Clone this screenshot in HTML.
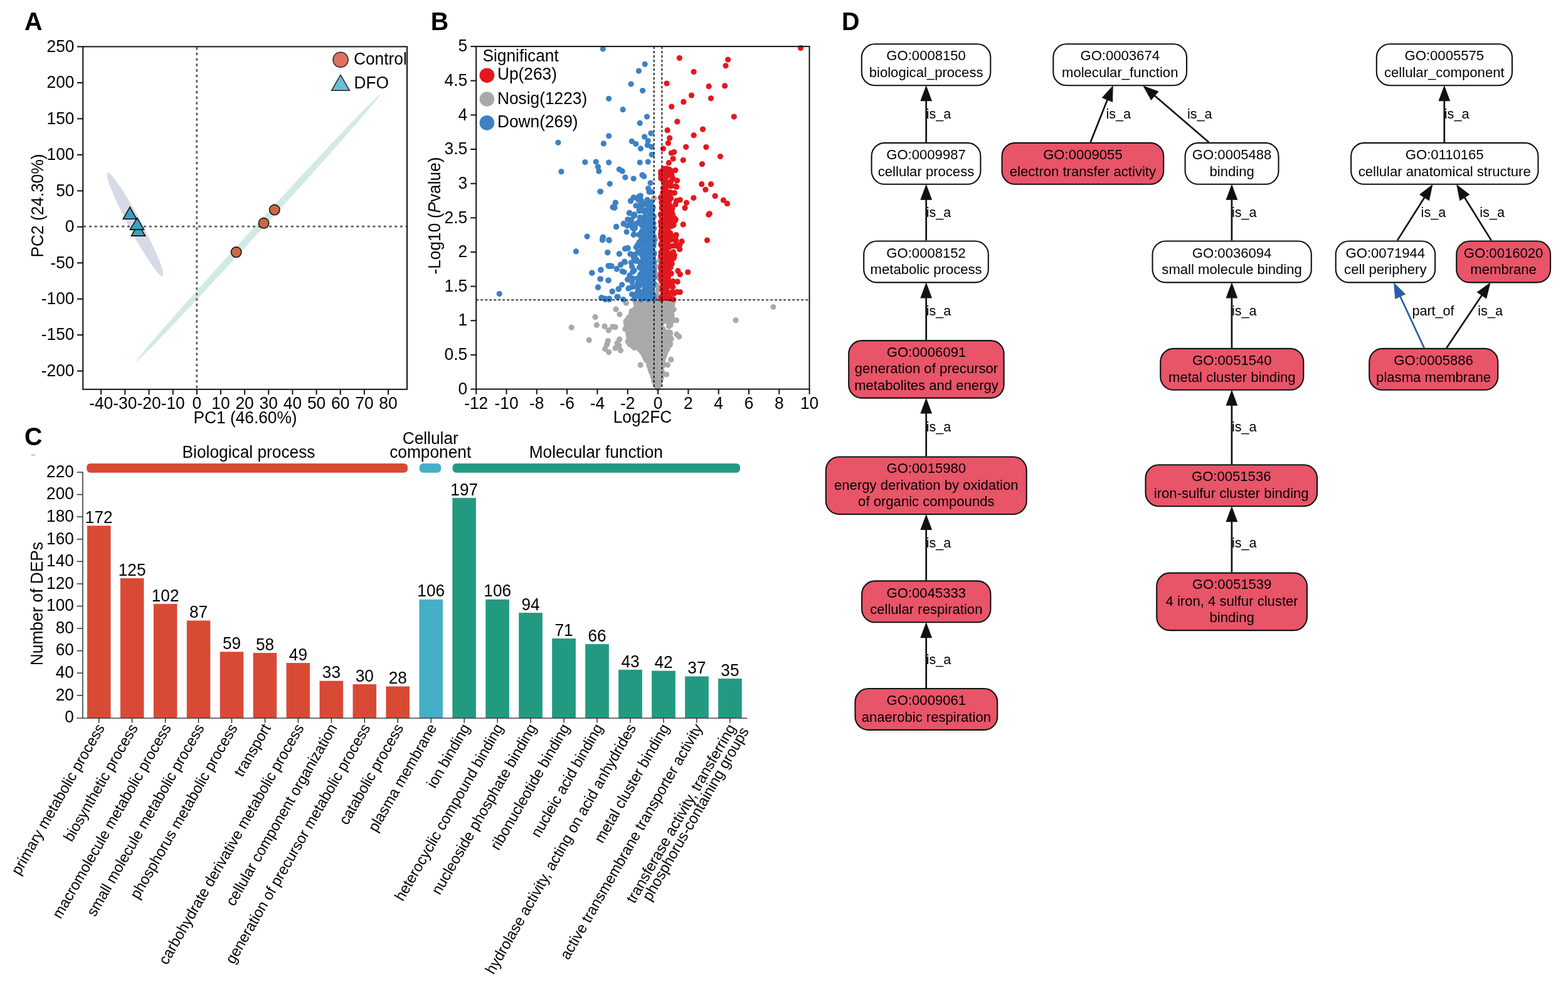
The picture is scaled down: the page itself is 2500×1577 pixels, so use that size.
<!DOCTYPE html>
<html><head><meta charset="utf-8"><title>Figure</title>
<style>
html,body{margin:0;padding:0;background:#fff;}
body{width:2500px;height:1577px;overflow:hidden;}
svg{display:block;font-family:'Liberation Sans', Arial, Helvetica, sans-serif;}
</style></head>
<body>
<svg width="2500" height="1577" viewBox="0 0 2500 1577">
<rect width="2500" height="1577" fill="#fff"/>
<text font-size="39.5" font-weight="bold" transform="translate(39.0 48.4) scale(1 1.035)">A</text>
<ellipse cx="215.3" cy="357.9" rx="93.5" ry="10.2" fill="#D6DAE7" transform="rotate(61.91 215.3 357.9)"/>
<ellipse cx="411.2" cy="364.0" rx="288" ry="5.6" fill="#D2EAE5" transform="rotate(-47.58 411.2 364.0)"/>
<line x1="313.8" y1="75.4" x2="313.8" y2="619.8" stroke="#5a5a5a" stroke-width="2.8" stroke-dasharray="4 4.7"/>
<line x1="133.3" y1="361.1" x2="648.0" y2="361.1" stroke="#5a5a5a" stroke-width="2.8" stroke-dasharray="4 4.7"/>
<rect x="132.3" y="74.4" width="516.7" height="546.4" fill="none" stroke="#111" stroke-width="2"/>
<line x1="123.0" y1="74.4" x2="132.3" y2="74.4" stroke="#111" stroke-width="2"/>
<text font-size="26.4" text-anchor="end" transform="translate(118.5 82.7) scale(1 1.035)">250</text>
<line x1="123.0" y1="131.9" x2="132.3" y2="131.9" stroke="#111" stroke-width="2"/>
<text font-size="26.4" text-anchor="end" transform="translate(118.5 140.2) scale(1 1.035)">200</text>
<line x1="123.0" y1="189.3" x2="132.3" y2="189.3" stroke="#111" stroke-width="2"/>
<text font-size="26.4" text-anchor="end" transform="translate(118.5 197.6) scale(1 1.035)">150</text>
<line x1="123.0" y1="246.8" x2="132.3" y2="246.8" stroke="#111" stroke-width="2"/>
<text font-size="26.4" text-anchor="end" transform="translate(118.5 255.1) scale(1 1.035)">100</text>
<line x1="123.0" y1="304.3" x2="132.3" y2="304.3" stroke="#111" stroke-width="2"/>
<text font-size="26.4" text-anchor="end" transform="translate(118.5 312.6) scale(1 1.035)">50</text>
<line x1="123.0" y1="361.7" x2="132.3" y2="361.7" stroke="#111" stroke-width="2"/>
<text font-size="26.4" text-anchor="end" transform="translate(118.5 370.0) scale(1 1.035)">0</text>
<line x1="123.0" y1="419.2" x2="132.3" y2="419.2" stroke="#111" stroke-width="2"/>
<text font-size="26.4" text-anchor="end" transform="translate(118.5 427.5) scale(1 1.035)">-50</text>
<line x1="123.0" y1="476.7" x2="132.3" y2="476.7" stroke="#111" stroke-width="2"/>
<text font-size="26.4" text-anchor="end" transform="translate(118.5 485.0) scale(1 1.035)">-100</text>
<line x1="123.0" y1="534.1" x2="132.3" y2="534.1" stroke="#111" stroke-width="2"/>
<text font-size="26.4" text-anchor="end" transform="translate(118.5 542.4) scale(1 1.035)">-150</text>
<line x1="123.0" y1="591.6" x2="132.3" y2="591.6" stroke="#111" stroke-width="2"/>
<text font-size="26.4" text-anchor="end" transform="translate(118.5 599.9) scale(1 1.035)">-200</text>
<line x1="161.2" y1="620.8" x2="161.2" y2="629.3" stroke="#111" stroke-width="2"/>
<text font-size="26.4" text-anchor="middle" transform="translate(161.2 652.3) scale(1 1.035)">-40</text>
<line x1="199.4" y1="620.8" x2="199.4" y2="629.3" stroke="#111" stroke-width="2"/>
<text font-size="26.4" text-anchor="middle" transform="translate(199.4 652.3) scale(1 1.035)">-30</text>
<line x1="237.5" y1="620.8" x2="237.5" y2="629.3" stroke="#111" stroke-width="2"/>
<text font-size="26.4" text-anchor="middle" transform="translate(237.5 652.3) scale(1 1.035)">-20</text>
<line x1="275.7" y1="620.8" x2="275.7" y2="629.3" stroke="#111" stroke-width="2"/>
<text font-size="26.4" text-anchor="middle" transform="translate(275.7 652.3) scale(1 1.035)">-10</text>
<line x1="313.8" y1="620.8" x2="313.8" y2="629.3" stroke="#111" stroke-width="2"/>
<text font-size="26.4" text-anchor="middle" transform="translate(313.8 652.3) scale(1 1.035)">0</text>
<line x1="351.9" y1="620.8" x2="351.9" y2="629.3" stroke="#111" stroke-width="2"/>
<text font-size="26.4" text-anchor="middle" transform="translate(351.9 652.3) scale(1 1.035)">10</text>
<line x1="390.1" y1="620.8" x2="390.1" y2="629.3" stroke="#111" stroke-width="2"/>
<text font-size="26.4" text-anchor="middle" transform="translate(390.1 652.3) scale(1 1.035)">20</text>
<line x1="428.2" y1="620.8" x2="428.2" y2="629.3" stroke="#111" stroke-width="2"/>
<text font-size="26.4" text-anchor="middle" transform="translate(428.2 652.3) scale(1 1.035)">30</text>
<line x1="466.4" y1="620.8" x2="466.4" y2="629.3" stroke="#111" stroke-width="2"/>
<text font-size="26.4" text-anchor="middle" transform="translate(466.4 652.3) scale(1 1.035)">40</text>
<line x1="504.6" y1="620.8" x2="504.6" y2="629.3" stroke="#111" stroke-width="2"/>
<text font-size="26.4" text-anchor="middle" transform="translate(504.6 652.3) scale(1 1.035)">50</text>
<line x1="542.7" y1="620.8" x2="542.7" y2="629.3" stroke="#111" stroke-width="2"/>
<text font-size="26.4" text-anchor="middle" transform="translate(542.7 652.3) scale(1 1.035)">60</text>
<line x1="580.9" y1="620.8" x2="580.9" y2="629.3" stroke="#111" stroke-width="2"/>
<text font-size="26.4" text-anchor="middle" transform="translate(580.9 652.3) scale(1 1.035)">70</text>
<line x1="619.0" y1="620.8" x2="619.0" y2="629.3" stroke="#111" stroke-width="2"/>
<text font-size="26.4" text-anchor="middle" transform="translate(619.0 652.3) scale(1 1.035)">80</text>
<text font-size="26.3" text-anchor="middle" transform="translate(391.0 674.5) scale(1 1.035)">PC1 (46.60%)</text>
<text font-size="26.3" text-anchor="middle" transform="translate(68.8 328.0) rotate(-90) scale(1 1.035)">PC2 (24.30%)</text>
<polygon points="220.5,357.5 209.4,376.1 231.6,376.1" fill="#3FA1BF" stroke="#111" stroke-width="1.6" stroke-linejoin="miter"/>
<polygon points="207.1,330.2 196.3,349.3 217.7,349.3" fill="#3FA1BF" stroke="#111" stroke-width="1.6" stroke-linejoin="miter"/>
<polygon points="218.7,347.5 207.4,366.1 229.5,366.1" fill="#3FA1BF" stroke="#111" stroke-width="1.6" stroke-linejoin="miter"/>
<circle cx="437.8" cy="334.6" r="8.2" fill="#C96A45" stroke="#111" stroke-width="1.6"/>
<circle cx="420.6" cy="355.8" r="8.2" fill="#C96A45" stroke="#111" stroke-width="1.6"/>
<circle cx="376.7" cy="402.1" r="8.2" fill="#C96A45" stroke="#111" stroke-width="1.6"/>
<circle cx="543" cy="95.3" r="12" fill="#E07060" stroke="#222" stroke-width="1.5"/>
<text font-size="26.3" transform="translate(564.0 103.0) scale(1 1.035)">Control</text>
<polygon points="543.0,119.4 528.6,144.3 557.4,144.3" fill="#66BFD4" stroke="#2a1a1a" stroke-width="1.4" stroke-linejoin="miter"/>
<text font-size="26.3" transform="translate(564.5 141.1) scale(1 1.035)">DFO</text>
<text font-size="39.5" font-weight="bold" transform="translate(686.8 48.3) scale(1 1.035)">B</text>
<g fill="#A9A9A9">
<circle cx="911.2" cy="522.2" r="4.6"/>
<circle cx="949.0" cy="505.4" r="4.6"/>
<circle cx="951.4" cy="518.3" r="4.6"/>
<circle cx="939.2" cy="542.3" r="4.6"/>
<circle cx="964.0" cy="520.4" r="4.6"/>
<circle cx="970.4" cy="526.7" r="4.6"/>
<circle cx="976.7" cy="521.0" r="4.6"/>
<circle cx="981.0" cy="521.6" r="4.6"/>
<circle cx="982.0" cy="493.2" r="4.6"/>
<circle cx="988.0" cy="501.3" r="4.6"/>
<circle cx="998.4" cy="483.2" r="4.6"/>
<circle cx="996.8" cy="524.7" r="4.6"/>
<circle cx="969.4" cy="543.5" r="4.6"/>
<circle cx="967.6" cy="549.6" r="4.6"/>
<circle cx="964.6" cy="556.3" r="4.6"/>
<circle cx="970.7" cy="561.6" r="4.6"/>
<circle cx="987.7" cy="541.1" r="4.6"/>
<circle cx="984.1" cy="547.2" r="4.6"/>
<circle cx="981.0" cy="555.1" r="4.6"/>
<circle cx="989.5" cy="558.8" r="4.6"/>
<circle cx="987.1" cy="551.5" r="4.6"/>
<circle cx="1007.2" cy="496.0" r="4.6"/>
<circle cx="1011.5" cy="554.5" r="4.6"/>
<circle cx="1021.2" cy="581.9" r="4.6"/>
<circle cx="1021.8" cy="551.5" r="4.6"/>
<circle cx="1069.9" cy="573.4" r="4.6"/>
<circle cx="1064.5" cy="581.9" r="4.6"/>
<circle cx="1062.6" cy="597.1" r="4.6"/>
<circle cx="1078.5" cy="510.7" r="4.6"/>
<circle cx="1082.7" cy="536.8" r="4.6"/>
<circle cx="1079.1" cy="533.2" r="4.6"/>
<circle cx="1074.2" cy="493.6" r="4.6"/>
<circle cx="1001.1" cy="544.8" r="4.6"/>
<circle cx="1232.9" cy="489.5" r="4.6"/>
<circle cx="1173.0" cy="510.7" r="4.6"/>
<circle cx="1042.8" cy="316.0" r="4.6"/>
<circle cx="1044.5" cy="382.0" r="4.6"/>
<circle cx="1045.0" cy="424.5" r="4.6"/>
<circle cx="1052.6" cy="426.3" r="4.6"/>
<circle cx="1045.0" cy="435.7" r="4.6"/>
<circle cx="1052.0" cy="415.0" r="4.6"/>
<circle cx="1050.0" cy="442.6" r="4.6"/>
<circle cx="1047.0" cy="455.0" r="4.6"/>
<circle cx="1049.0" cy="462.0" r="4.6"/>
<circle cx="1047.0" cy="470.0" r="4.6"/>
<circle cx="1050.0" cy="475.0" r="4.6"/>
<circle cx="1050.0" cy="525.0" r="4.6"/>
<circle cx="1062.8" cy="490.1" r="4.6"/>
<circle cx="1036.0" cy="554.5" r="4.6"/>
<circle cx="1041.4" cy="550.5" r="4.6"/>
<circle cx="1037.1" cy="485.2" r="4.6"/>
<circle cx="1044.2" cy="492.6" r="4.6"/>
<circle cx="1041.7" cy="539.0" r="4.6"/>
<circle cx="1025.7" cy="511.0" r="4.6"/>
<circle cx="1055.0" cy="567.2" r="4.6"/>
<circle cx="1027.7" cy="535.1" r="4.6"/>
<circle cx="1049.9" cy="615.7" r="4.6"/>
<circle cx="1045.5" cy="520.3" r="4.6"/>
<circle cx="1051.1" cy="500.1" r="4.6"/>
<circle cx="1049.8" cy="593.4" r="4.6"/>
<circle cx="1012.1" cy="505.1" r="4.6"/>
<circle cx="1021.2" cy="531.8" r="4.6"/>
<circle cx="1045.2" cy="556.1" r="4.6"/>
<circle cx="1039.3" cy="508.6" r="4.6"/>
<circle cx="1037.8" cy="574.6" r="4.6"/>
<circle cx="1046.5" cy="561.4" r="4.6"/>
<circle cx="1025.7" cy="543.0" r="4.6"/>
<circle cx="1056.7" cy="577.2" r="4.6"/>
<circle cx="1010.7" cy="513.9" r="4.6"/>
<circle cx="1045.6" cy="601.6" r="4.6"/>
<circle cx="1040.7" cy="581.4" r="4.6"/>
<circle cx="1070.6" cy="496.4" r="4.6"/>
<circle cx="1037.5" cy="538.1" r="4.6"/>
<circle cx="1025.0" cy="548.0" r="4.6"/>
<circle cx="1028.7" cy="485.4" r="4.6"/>
<circle cx="1024.5" cy="559.7" r="4.6"/>
<circle cx="1045.4" cy="601.7" r="4.6"/>
<circle cx="1057.8" cy="562.6" r="4.6"/>
<circle cx="1023.0" cy="560.6" r="4.6"/>
<circle cx="1049.2" cy="611.3" r="4.6"/>
<circle cx="1032.8" cy="545.9" r="4.6"/>
<circle cx="1042.2" cy="577.5" r="4.6"/>
<circle cx="1058.2" cy="570.0" r="4.6"/>
<circle cx="1032.2" cy="519.6" r="4.6"/>
<circle cx="1033.7" cy="533.6" r="4.6"/>
<circle cx="1032.8" cy="544.2" r="4.6"/>
<circle cx="1043.1" cy="503.4" r="4.6"/>
<circle cx="1047.4" cy="586.8" r="4.6"/>
<circle cx="1039.9" cy="498.0" r="4.6"/>
<circle cx="1051.5" cy="601.1" r="4.6"/>
<circle cx="1021.3" cy="491.2" r="4.6"/>
<circle cx="1049.1" cy="602.8" r="4.6"/>
<circle cx="1049.6" cy="593.9" r="4.6"/>
<circle cx="1024.6" cy="537.7" r="4.6"/>
<circle cx="1067.9" cy="529.9" r="4.6"/>
<circle cx="1006.3" cy="501.0" r="4.6"/>
<circle cx="1039.3" cy="504.5" r="4.6"/>
<circle cx="1050.2" cy="547.4" r="4.6"/>
<circle cx="1042.2" cy="561.9" r="4.6"/>
<circle cx="1038.8" cy="538.2" r="4.6"/>
<circle cx="1001.7" cy="531.3" r="4.6"/>
<circle cx="1036.6" cy="576.0" r="4.6"/>
<circle cx="1017.9" cy="551.7" r="4.6"/>
<circle cx="1025.9" cy="487.5" r="4.6"/>
<circle cx="1049.1" cy="605.0" r="4.6"/>
<circle cx="1038.0" cy="590.9" r="4.6"/>
<circle cx="1028.5" cy="534.5" r="4.6"/>
<circle cx="1045.9" cy="568.2" r="4.6"/>
<circle cx="1053.7" cy="488.7" r="4.6"/>
<circle cx="1043.8" cy="502.6" r="4.6"/>
<circle cx="1034.3" cy="527.3" r="4.6"/>
<circle cx="1038.8" cy="501.0" r="4.6"/>
<circle cx="1038.2" cy="494.1" r="4.6"/>
<circle cx="1048.3" cy="601.5" r="4.6"/>
<circle cx="1047.6" cy="565.4" r="4.6"/>
<circle cx="1046.3" cy="528.3" r="4.6"/>
<circle cx="1062.7" cy="530.6" r="4.6"/>
<circle cx="1048.8" cy="618.0" r="4.6"/>
<circle cx="1028.1" cy="544.8" r="4.6"/>
<circle cx="1041.6" cy="494.2" r="4.6"/>
<circle cx="1030.5" cy="527.6" r="4.6"/>
<circle cx="1071.2" cy="502.4" r="4.6"/>
<circle cx="1063.5" cy="483.2" r="4.6"/>
<circle cx="1031.7" cy="500.4" r="4.6"/>
<circle cx="1057.8" cy="555.5" r="4.6"/>
<circle cx="1048.5" cy="616.0" r="4.6"/>
<circle cx="1046.6" cy="600.0" r="4.6"/>
<circle cx="1020.3" cy="531.0" r="4.6"/>
<circle cx="1041.4" cy="503.2" r="4.6"/>
<circle cx="1039.6" cy="588.3" r="4.6"/>
<circle cx="1039.5" cy="525.8" r="4.6"/>
<circle cx="1049.4" cy="616.9" r="4.6"/>
<circle cx="1050.2" cy="598.5" r="4.6"/>
<circle cx="1034.7" cy="582.8" r="4.6"/>
<circle cx="1015.0" cy="511.5" r="4.6"/>
<circle cx="1041.3" cy="484.0" r="4.6"/>
<circle cx="1040.6" cy="483.9" r="4.6"/>
<circle cx="1050.0" cy="576.3" r="4.6"/>
<circle cx="1045.3" cy="613.0" r="4.6"/>
<circle cx="1048.8" cy="617.3" r="4.6"/>
<circle cx="1047.3" cy="612.7" r="4.6"/>
<circle cx="1046.9" cy="511.5" r="4.6"/>
<circle cx="1045.1" cy="507.3" r="4.6"/>
<circle cx="1052.2" cy="605.1" r="4.6"/>
<circle cx="1041.0" cy="596.8" r="4.6"/>
<circle cx="1047.6" cy="591.2" r="4.6"/>
<circle cx="1021.5" cy="491.8" r="4.6"/>
<circle cx="1037.2" cy="588.7" r="4.6"/>
<circle cx="1041.8" cy="584.3" r="4.6"/>
<circle cx="1047.0" cy="589.7" r="4.6"/>
<circle cx="1050.1" cy="526.2" r="4.6"/>
<circle cx="1002.5" cy="535.0" r="4.6"/>
<circle cx="1067.3" cy="535.8" r="4.6"/>
<circle cx="1027.3" cy="503.6" r="4.6"/>
<circle cx="1063.2" cy="497.7" r="4.6"/>
<circle cx="1055.2" cy="592.1" r="4.6"/>
<circle cx="1063.8" cy="500.3" r="4.6"/>
<circle cx="1029.4" cy="571.4" r="4.6"/>
<circle cx="1024.3" cy="528.7" r="4.6"/>
<circle cx="1040.3" cy="482.0" r="4.6"/>
<circle cx="1047.5" cy="615.0" r="4.6"/>
<circle cx="1045.5" cy="609.8" r="4.6"/>
<circle cx="1062.8" cy="540.3" r="4.6"/>
<circle cx="1007.3" cy="509.3" r="4.6"/>
<circle cx="1030.1" cy="515.0" r="4.6"/>
<circle cx="1050.2" cy="561.5" r="4.6"/>
<circle cx="1024.3" cy="516.1" r="4.6"/>
<circle cx="1048.7" cy="606.5" r="4.6"/>
<circle cx="1009.0" cy="529.2" r="4.6"/>
<circle cx="1048.9" cy="605.7" r="4.6"/>
<circle cx="1057.8" cy="538.5" r="4.6"/>
<circle cx="1029.9" cy="553.9" r="4.6"/>
<circle cx="1056.1" cy="552.8" r="4.6"/>
<circle cx="1039.9" cy="505.5" r="4.6"/>
<circle cx="1046.4" cy="480.5" r="4.6"/>
<circle cx="1024.8" cy="545.8" r="4.6"/>
<circle cx="1039.4" cy="580.8" r="4.6"/>
<circle cx="1032.4" cy="552.1" r="4.6"/>
<circle cx="1042.8" cy="557.2" r="4.6"/>
<circle cx="1036.0" cy="557.9" r="4.6"/>
<circle cx="1028.1" cy="514.5" r="4.6"/>
<circle cx="1067.4" cy="550.6" r="4.6"/>
<circle cx="1043.7" cy="558.1" r="4.6"/>
<circle cx="1003.3" cy="541.6" r="4.6"/>
<circle cx="1031.0" cy="565.1" r="4.6"/>
<circle cx="1043.9" cy="576.3" r="4.6"/>
<circle cx="1014.4" cy="542.9" r="4.6"/>
<circle cx="1047.5" cy="610.9" r="4.6"/>
<circle cx="1056.7" cy="577.2" r="4.6"/>
<circle cx="998.6" cy="516.1" r="4.6"/>
<circle cx="1063.1" cy="557.8" r="4.6"/>
<circle cx="1026.6" cy="499.1" r="4.6"/>
<circle cx="1033.2" cy="496.9" r="4.6"/>
<circle cx="1037.5" cy="513.4" r="4.6"/>
<circle cx="1028.0" cy="490.2" r="4.6"/>
<circle cx="1042.8" cy="604.7" r="4.6"/>
<circle cx="1032.5" cy="501.5" r="4.6"/>
<circle cx="1011.5" cy="499.9" r="4.6"/>
<circle cx="1050.2" cy="602.7" r="4.6"/>
<circle cx="1047.9" cy="612.4" r="4.6"/>
<circle cx="1002.6" cy="535.4" r="4.6"/>
<circle cx="1048.3" cy="595.7" r="4.6"/>
<circle cx="1016.6" cy="502.4" r="4.6"/>
<circle cx="1043.7" cy="527.1" r="4.6"/>
<circle cx="1022.9" cy="507.2" r="4.6"/>
<circle cx="1068.6" cy="482.7" r="4.6"/>
<circle cx="1038.9" cy="557.0" r="4.6"/>
<circle cx="1034.9" cy="526.1" r="4.6"/>
<circle cx="1039.8" cy="566.7" r="4.6"/>
<circle cx="1048.4" cy="616.9" r="4.6"/>
<circle cx="1049.0" cy="589.6" r="4.6"/>
<circle cx="1032.4" cy="516.9" r="4.6"/>
<circle cx="1045.6" cy="485.5" r="4.6"/>
<circle cx="1025.0" cy="498.0" r="4.6"/>
<circle cx="1068.7" cy="538.7" r="4.6"/>
<circle cx="1013.3" cy="515.9" r="4.6"/>
<circle cx="1060.7" cy="500.8" r="4.6"/>
<circle cx="1039.8" cy="577.4" r="4.6"/>
<circle cx="1066.6" cy="492.4" r="4.6"/>
<circle cx="1047.8" cy="539.1" r="4.6"/>
<circle cx="1065.1" cy="490.1" r="4.6"/>
<circle cx="1044.0" cy="591.4" r="4.6"/>
<circle cx="1045.9" cy="491.6" r="4.6"/>
<circle cx="1046.4" cy="599.9" r="4.6"/>
<circle cx="1023.2" cy="543.1" r="4.6"/>
<circle cx="1050.9" cy="608.8" r="4.6"/>
<circle cx="1051.9" cy="517.2" r="4.6"/>
<circle cx="1053.9" cy="513.1" r="4.6"/>
<circle cx="1043.5" cy="495.2" r="4.6"/>
<circle cx="1042.3" cy="508.0" r="4.6"/>
<circle cx="1022.0" cy="523.4" r="4.6"/>
<circle cx="1066.4" cy="520.3" r="4.6"/>
<circle cx="1043.8" cy="549.5" r="4.6"/>
<circle cx="1057.6" cy="482.5" r="4.6"/>
<circle cx="1069.3" cy="514.8" r="4.6"/>
<circle cx="1043.1" cy="556.6" r="4.6"/>
<circle cx="1002.6" cy="506.3" r="4.6"/>
<circle cx="1047.2" cy="494.8" r="4.6"/>
<circle cx="1041.9" cy="593.8" r="4.6"/>
<circle cx="1049.5" cy="596.0" r="4.6"/>
<circle cx="1005.3" cy="534.6" r="4.6"/>
<circle cx="1048.3" cy="616.6" r="4.6"/>
<circle cx="1049.3" cy="527.6" r="4.6"/>
<circle cx="1030.9" cy="568.4" r="4.6"/>
<circle cx="1032.7" cy="536.3" r="4.6"/>
<circle cx="1044.7" cy="498.0" r="4.6"/>
<circle cx="1041.9" cy="489.8" r="4.6"/>
<circle cx="1023.0" cy="502.7" r="4.6"/>
<circle cx="1061.0" cy="491.7" r="4.6"/>
<circle cx="1030.3" cy="573.2" r="4.6"/>
<circle cx="1034.7" cy="519.2" r="4.6"/>
<circle cx="1052.9" cy="543.9" r="4.6"/>
<circle cx="1023.9" cy="501.9" r="4.6"/>
<circle cx="1048.6" cy="613.7" r="4.6"/>
<circle cx="1047.5" cy="615.2" r="4.6"/>
<circle cx="1047.9" cy="614.2" r="4.6"/>
<circle cx="1032.9" cy="523.0" r="4.6"/>
<circle cx="1036.4" cy="533.0" r="4.6"/>
<circle cx="1023.2" cy="546.0" r="4.6"/>
<circle cx="1036.2" cy="550.2" r="4.6"/>
<circle cx="1042.4" cy="480.7" r="4.6"/>
<circle cx="1045.2" cy="535.5" r="4.6"/>
<circle cx="1057.6" cy="485.8" r="4.6"/>
<circle cx="1037.5" cy="512.4" r="4.6"/>
<circle cx="1023.9" cy="561.4" r="4.6"/>
<circle cx="1041.0" cy="571.4" r="4.6"/>
<circle cx="1049.8" cy="579.5" r="4.6"/>
<circle cx="1019.8" cy="525.3" r="4.6"/>
<circle cx="1049.0" cy="616.9" r="4.6"/>
<circle cx="1055.1" cy="569.4" r="4.6"/>
<circle cx="1061.6" cy="486.1" r="4.6"/>
<circle cx="1027.5" cy="567.2" r="4.6"/>
<circle cx="1046.6" cy="582.0" r="4.6"/>
<circle cx="1029.8" cy="552.8" r="4.6"/>
<circle cx="1053.6" cy="550.1" r="4.6"/>
<circle cx="1039.8" cy="594.9" r="4.6"/>
<circle cx="1055.6" cy="561.2" r="4.6"/>
<circle cx="1037.1" cy="576.4" r="4.6"/>
<circle cx="1046.5" cy="512.0" r="4.6"/>
<circle cx="1036.8" cy="530.1" r="4.6"/>
<circle cx="1052.4" cy="494.6" r="4.6"/>
<circle cx="1032.9" cy="567.3" r="4.6"/>
<circle cx="1038.6" cy="567.0" r="4.6"/>
<circle cx="1024.4" cy="480.5" r="4.6"/>
<circle cx="1046.6" cy="590.9" r="4.6"/>
<circle cx="1021.2" cy="554.4" r="4.6"/>
<circle cx="1056.3" cy="571.6" r="4.6"/>
<circle cx="1048.5" cy="515.1" r="4.6"/>
<circle cx="1039.8" cy="490.3" r="4.6"/>
<circle cx="1070.6" cy="508.5" r="4.6"/>
<circle cx="1052.8" cy="582.8" r="4.6"/>
<circle cx="1032.1" cy="533.2" r="4.6"/>
<circle cx="1022.8" cy="546.6" r="4.6"/>
<circle cx="1027.9" cy="565.8" r="4.6"/>
<circle cx="1047.9" cy="569.3" r="4.6"/>
<circle cx="1040.0" cy="515.3" r="4.6"/>
<circle cx="1042.7" cy="583.3" r="4.6"/>
<circle cx="1064.6" cy="481.7" r="4.6"/>
<circle cx="1040.2" cy="488.4" r="4.6"/>
<circle cx="1055.4" cy="576.2" r="4.6"/>
<circle cx="1041.4" cy="573.9" r="4.6"/>
<circle cx="1059.4" cy="544.6" r="4.6"/>
<circle cx="1067.0" cy="544.8" r="4.6"/>
<circle cx="1066.8" cy="507.7" r="4.6"/>
<circle cx="1048.5" cy="616.0" r="4.6"/>
<circle cx="1035.0" cy="543.8" r="4.6"/>
<circle cx="1052.2" cy="594.0" r="4.6"/>
<circle cx="1029.5" cy="517.3" r="4.6"/>
<circle cx="1050.1" cy="509.2" r="4.6"/>
<circle cx="1039.6" cy="560.8" r="4.6"/>
<circle cx="1007.2" cy="499.7" r="4.6"/>
<circle cx="1032.4" cy="498.4" r="4.6"/>
<circle cx="1039.0" cy="594.0" r="4.6"/>
<circle cx="1043.7" cy="577.8" r="4.6"/>
<circle cx="1055.2" cy="512.2" r="4.6"/>
<circle cx="1031.0" cy="483.5" r="4.6"/>
<circle cx="1023.6" cy="480.5" r="4.6"/>
<circle cx="1034.8" cy="522.0" r="4.6"/>
<circle cx="1029.8" cy="499.6" r="4.6"/>
<circle cx="1050.6" cy="596.8" r="4.6"/>
<circle cx="1043.2" cy="480.2" r="4.6"/>
<circle cx="1009.3" cy="496.7" r="4.6"/>
<circle cx="1046.6" cy="608.8" r="4.6"/>
<circle cx="999.5" cy="520.3" r="4.6"/>
<circle cx="1001.8" cy="531.7" r="4.6"/>
<circle cx="1060.7" cy="561.9" r="4.6"/>
<circle cx="1020.3" cy="530.1" r="4.6"/>
<circle cx="1049.1" cy="486.7" r="4.6"/>
<circle cx="1048.2" cy="494.1" r="4.6"/>
<circle cx="1046.3" cy="610.0" r="4.6"/>
<circle cx="1031.8" cy="514.7" r="4.6"/>
<circle cx="1061.7" cy="506.4" r="4.6"/>
<circle cx="1068.7" cy="531.9" r="4.6"/>
<circle cx="1044.1" cy="592.9" r="4.6"/>
<circle cx="1058.9" cy="567.7" r="4.6"/>
<circle cx="1023.7" cy="556.3" r="4.6"/>
<circle cx="1055.6" cy="580.0" r="4.6"/>
<circle cx="1046.4" cy="542.7" r="4.6"/>
<circle cx="1042.6" cy="584.6" r="4.6"/>
<circle cx="1032.1" cy="486.8" r="4.6"/>
<circle cx="1050.1" cy="608.8" r="4.6"/>
<circle cx="1050.1" cy="527.8" r="4.6"/>
<circle cx="1029.8" cy="521.4" r="4.6"/>
<circle cx="998.6" cy="516.2" r="4.6"/>
<circle cx="1040.2" cy="571.2" r="4.6"/>
<circle cx="1060.7" cy="534.8" r="4.6"/>
<circle cx="1045.2" cy="503.3" r="4.6"/>
<circle cx="1049.7" cy="605.9" r="4.6"/>
<circle cx="1043.9" cy="549.1" r="4.6"/>
<circle cx="1048.7" cy="618.5" r="4.6"/>
<circle cx="1044.9" cy="542.5" r="4.6"/>
<circle cx="1050.3" cy="492.6" r="4.6"/>
<circle cx="1046.2" cy="527.5" r="4.6"/>
<circle cx="1042.8" cy="515.9" r="4.6"/>
<circle cx="1057.4" cy="559.2" r="4.6"/>
<circle cx="1014.9" cy="537.4" r="4.6"/>
<circle cx="1017.4" cy="537.5" r="4.6"/>
<circle cx="1030.9" cy="527.0" r="4.6"/>
<circle cx="1035.5" cy="488.6" r="4.6"/>
<circle cx="1070.7" cy="497.5" r="4.6"/>
<circle cx="1010.4" cy="550.0" r="4.6"/>
<circle cx="1004.7" cy="510.0" r="4.6"/>
<circle cx="1034.3" cy="517.7" r="4.6"/>
<circle cx="1056.8" cy="542.0" r="4.6"/>
<circle cx="1050.3" cy="612.6" r="4.6"/>
<circle cx="1014.2" cy="483.0" r="4.6"/>
<circle cx="1033.8" cy="484.5" r="4.6"/>
<circle cx="1003.7" cy="545.8" r="4.6"/>
<circle cx="1053.4" cy="561.6" r="4.6"/>
<circle cx="1048.0" cy="608.8" r="4.6"/>
<circle cx="1054.9" cy="594.8" r="4.6"/>
<circle cx="998.3" cy="514.5" r="4.6"/>
<circle cx="1052.8" cy="495.2" r="4.6"/>
<circle cx="1051.8" cy="574.8" r="4.6"/>
<circle cx="1047.5" cy="610.9" r="4.6"/>
<circle cx="1037.7" cy="586.3" r="4.6"/>
<circle cx="1031.2" cy="543.6" r="4.6"/>
<circle cx="1045.9" cy="588.7" r="4.6"/>
<circle cx="1062.5" cy="512.3" r="4.6"/>
<circle cx="1019.5" cy="522.2" r="4.6"/>
<circle cx="1039.3" cy="497.8" r="4.6"/>
<circle cx="1054.9" cy="577.1" r="4.6"/>
<circle cx="1060.3" cy="495.6" r="4.6"/>
<circle cx="1048.1" cy="561.0" r="4.6"/>
<circle cx="1040.4" cy="533.9" r="4.6"/>
<circle cx="1066.6" cy="481.5" r="4.6"/>
<circle cx="999.8" cy="521.9" r="4.6"/>
<circle cx="1049.0" cy="569.6" r="4.6"/>
<circle cx="1045.2" cy="602.8" r="4.6"/>
<circle cx="1036.8" cy="514.3" r="4.6"/>
<circle cx="1047.8" cy="613.5" r="4.6"/>
<circle cx="1028.7" cy="483.0" r="4.6"/>
<circle cx="1026.9" cy="549.3" r="4.6"/>
<circle cx="1014.4" cy="515.8" r="4.6"/>
<circle cx="1049.0" cy="572.8" r="4.6"/>
<circle cx="1037.5" cy="484.7" r="4.6"/>
<circle cx="1007.5" cy="527.0" r="4.6"/>
<circle cx="1051.9" cy="507.5" r="4.6"/>
<circle cx="1046.2" cy="590.8" r="4.6"/>
<circle cx="1011.4" cy="508.5" r="4.6"/>
<circle cx="1047.4" cy="614.8" r="4.6"/>
<circle cx="1071.4" cy="512.1" r="4.6"/>
<circle cx="1036.9" cy="510.8" r="4.6"/>
<circle cx="1046.6" cy="612.3" r="4.6"/>
<circle cx="1041.3" cy="548.9" r="4.6"/>
<circle cx="1050.3" cy="538.0" r="4.6"/>
<circle cx="1048.1" cy="572.5" r="4.6"/>
<circle cx="1032.5" cy="534.7" r="4.6"/>
<circle cx="1047.8" cy="509.6" r="4.6"/>
<circle cx="1041.6" cy="487.2" r="4.6"/>
<circle cx="1014.9" cy="488.4" r="4.6"/>
<circle cx="1052.5" cy="602.8" r="4.6"/>
<circle cx="1056.2" cy="581.8" r="4.6"/>
<circle cx="1032.7" cy="525.8" r="4.6"/>
<circle cx="1068.6" cy="505.8" r="4.6"/>
<circle cx="1031.8" cy="484.4" r="4.6"/>
<circle cx="1037.9" cy="572.4" r="4.6"/>
<circle cx="1046.7" cy="526.1" r="4.6"/>
<circle cx="1054.1" cy="503.5" r="4.6"/>
<circle cx="1034.6" cy="528.9" r="4.6"/>
<circle cx="1051.1" cy="612.8" r="4.6"/>
<circle cx="1071.8" cy="508.8" r="4.6"/>
<circle cx="1050.6" cy="529.6" r="4.6"/>
<circle cx="1003.2" cy="540.1" r="4.6"/>
<circle cx="1026.9" cy="486.8" r="4.6"/>
<circle cx="1048.4" cy="607.8" r="4.6"/>
<circle cx="1007.8" cy="506.8" r="4.6"/>
<circle cx="1071.0" cy="484.2" r="4.6"/>
<circle cx="1050.0" cy="537.1" r="4.6"/>
<circle cx="1015.9" cy="485.7" r="4.6"/>
<circle cx="1071.9" cy="484.8" r="4.6"/>
<circle cx="1052.7" cy="515.7" r="4.6"/>
<circle cx="1050.2" cy="583.9" r="4.6"/>
<circle cx="1022.6" cy="517.9" r="4.6"/>
<circle cx="1047.2" cy="613.1" r="4.6"/>
<circle cx="1041.2" cy="579.6" r="4.6"/>
<circle cx="1033.1" cy="524.0" r="4.6"/>
<circle cx="1046.3" cy="585.0" r="4.6"/>
<circle cx="1043.3" cy="607.4" r="4.6"/>
<circle cx="1014.0" cy="483.4" r="4.6"/>
<circle cx="998.3" cy="512.5" r="4.6"/>
<circle cx="1048.9" cy="612.6" r="4.6"/>
<circle cx="1035.7" cy="533.7" r="4.6"/>
<circle cx="1056.5" cy="548.6" r="4.6"/>
<circle cx="1049.9" cy="609.0" r="4.6"/>
<circle cx="1056.0" cy="582.6" r="4.6"/>
<circle cx="1048.0" cy="594.4" r="4.6"/>
<circle cx="1006.7" cy="525.6" r="4.6"/>
<circle cx="1011.0" cy="524.4" r="4.6"/>
<circle cx="1065.2" cy="491.0" r="4.6"/>
<circle cx="1037.1" cy="507.4" r="4.6"/>
<circle cx="1030.3" cy="489.0" r="4.6"/>
<circle cx="1028.6" cy="484.7" r="4.6"/>
<circle cx="1048.1" cy="616.3" r="4.6"/>
<circle cx="1050.5" cy="602.8" r="4.6"/>
<circle cx="1040.8" cy="491.7" r="4.6"/>
<circle cx="1013.3" cy="493.4" r="4.6"/>
<circle cx="1036.9" cy="542.1" r="4.6"/>
<circle cx="1008.4" cy="512.6" r="4.6"/>
<circle cx="1049.3" cy="573.7" r="4.6"/>
<circle cx="1050.9" cy="584.0" r="4.6"/>
<circle cx="1017.6" cy="496.8" r="4.6"/>
<circle cx="1045.8" cy="596.9" r="4.6"/>
<circle cx="1060.2" cy="531.8" r="4.6"/>
<circle cx="1046.9" cy="582.6" r="4.6"/>
<circle cx="1050.0" cy="514.1" r="4.6"/>
<circle cx="1057.7" cy="501.3" r="4.6"/>
<circle cx="1016.1" cy="525.4" r="4.6"/>
<circle cx="1060.3" cy="535.1" r="4.6"/>
<circle cx="1033.8" cy="512.2" r="4.6"/>
<circle cx="1038.5" cy="592.4" r="4.6"/>
<circle cx="1011.1" cy="494.2" r="4.6"/>
<circle cx="1052.1" cy="546.0" r="4.6"/>
<circle cx="1043.0" cy="607.1" r="4.6"/>
<circle cx="1040.8" cy="485.6" r="4.6"/>
<circle cx="1047.1" cy="506.4" r="4.6"/>
<circle cx="1046.5" cy="615.2" r="4.6"/>
<circle cx="1012.1" cy="531.7" r="4.6"/>
<circle cx="1044.7" cy="600.4" r="4.6"/>
<circle cx="1047.7" cy="588.1" r="4.6"/>
<circle cx="1050.4" cy="611.5" r="4.6"/>
<circle cx="1051.3" cy="566.2" r="4.6"/>
<circle cx="1027.8" cy="510.3" r="4.6"/>
<circle cx="1045.1" cy="508.4" r="4.6"/>
<circle cx="1009.0" cy="515.4" r="4.6"/>
<circle cx="1018.6" cy="508.3" r="4.6"/>
<circle cx="1030.7" cy="481.6" r="4.6"/>
<circle cx="1064.6" cy="505.7" r="4.6"/>
<circle cx="1043.7" cy="523.4" r="4.6"/>
<circle cx="1064.1" cy="556.2" r="4.6"/>
<circle cx="1056.8" cy="488.8" r="4.6"/>
<circle cx="1049.1" cy="556.5" r="4.6"/>
<circle cx="1048.0" cy="568.8" r="4.6"/>
<circle cx="1046.7" cy="576.7" r="4.6"/>
<circle cx="1033.2" cy="537.0" r="4.6"/>
<circle cx="1049.7" cy="612.5" r="4.6"/>
<circle cx="1016.3" cy="523.4" r="4.6"/>
<circle cx="1029.2" cy="537.9" r="4.6"/>
<circle cx="1051.4" cy="600.1" r="4.6"/>
<circle cx="1036.3" cy="507.4" r="4.6"/>
<circle cx="1045.3" cy="581.2" r="4.6"/>
<circle cx="1048.2" cy="605.3" r="4.6"/>
<circle cx="1045.7" cy="538.9" r="4.6"/>
<circle cx="1044.4" cy="602.7" r="4.6"/>
<circle cx="1038.2" cy="544.1" r="4.6"/>
<circle cx="1043.0" cy="556.7" r="4.6"/>
<circle cx="1046.7" cy="569.1" r="4.6"/>
<circle cx="1041.0" cy="566.5" r="4.6"/>
<circle cx="1023.9" cy="531.5" r="4.6"/>
<circle cx="1033.5" cy="519.4" r="4.6"/>
<circle cx="1045.3" cy="552.4" r="4.6"/>
<circle cx="1031.9" cy="548.2" r="4.6"/>
<circle cx="1050.1" cy="591.9" r="4.6"/>
<circle cx="1037.1" cy="497.6" r="4.6"/>
<circle cx="1050.6" cy="611.1" r="4.6"/>
<circle cx="1040.2" cy="487.4" r="4.6"/>
<circle cx="1043.5" cy="608.7" r="4.6"/>
<circle cx="1056.8" cy="566.2" r="4.6"/>
<circle cx="1051.5" cy="594.6" r="4.6"/>
<circle cx="1068.0" cy="510.9" r="4.6"/>
<circle cx="1058.3" cy="536.2" r="4.6"/>
<circle cx="1005.7" cy="505.4" r="4.6"/>
<circle cx="1014.8" cy="510.3" r="4.6"/>
<circle cx="1050.0" cy="533.3" r="4.6"/>
<circle cx="1040.4" cy="497.1" r="4.6"/>
<circle cx="1053.1" cy="604.7" r="4.6"/>
<circle cx="1016.4" cy="485.7" r="4.6"/>
<circle cx="1032.0" cy="485.3" r="4.6"/>
<circle cx="1051.8" cy="596.5" r="4.6"/>
<circle cx="1053.5" cy="556.5" r="4.6"/>
<circle cx="1039.9" cy="567.2" r="4.6"/>
<circle cx="1053.4" cy="561.0" r="4.6"/>
<circle cx="1024.9" cy="539.2" r="4.6"/>
<circle cx="1018.4" cy="540.9" r="4.6"/>
<circle cx="1028.2" cy="483.2" r="4.6"/>
<circle cx="1017.4" cy="512.7" r="4.6"/>
<circle cx="1047.2" cy="586.1" r="4.6"/>
<circle cx="1015.4" cy="505.0" r="4.6"/>
<circle cx="1044.3" cy="545.8" r="4.6"/>
<circle cx="1043.4" cy="539.9" r="4.6"/>
<circle cx="1021.8" cy="492.7" r="4.6"/>
<circle cx="1050.5" cy="485.7" r="4.6"/>
<circle cx="1056.4" cy="568.5" r="4.6"/>
<circle cx="1050.8" cy="588.1" r="4.6"/>
<circle cx="1057.2" cy="551.1" r="4.6"/>
<circle cx="1043.4" cy="532.5" r="4.6"/>
<circle cx="1050.7" cy="612.2" r="4.6"/>
<circle cx="1048.7" cy="618.5" r="4.6"/>
<circle cx="1046.9" cy="581.8" r="4.6"/>
<circle cx="1047.9" cy="616.5" r="4.6"/>
<circle cx="1068.3" cy="548.4" r="4.6"/>
<circle cx="1026.2" cy="503.0" r="4.6"/>
<circle cx="1048.3" cy="589.6" r="4.6"/>
<circle cx="1031.2" cy="528.8" r="4.6"/>
<circle cx="1052.8" cy="585.1" r="4.6"/>
<circle cx="1068.9" cy="518.2" r="4.6"/>
<circle cx="1050.5" cy="593.4" r="4.6"/>
<circle cx="1050.6" cy="607.9" r="4.6"/>
<circle cx="1034.3" cy="509.0" r="4.6"/>
<circle cx="1056.8" cy="524.4" r="4.6"/>
<circle cx="1047.4" cy="485.1" r="4.6"/>
<circle cx="1049.4" cy="610.2" r="4.6"/>
<circle cx="1047.7" cy="574.5" r="4.6"/>
<circle cx="1044.4" cy="589.1" r="4.6"/>
<circle cx="1014.8" cy="496.0" r="4.6"/>
<circle cx="1029.3" cy="530.0" r="4.6"/>
<circle cx="1043.0" cy="601.3" r="4.6"/>
<circle cx="1046.1" cy="602.7" r="4.6"/>
<circle cx="1065.8" cy="494.5" r="4.6"/>
<circle cx="1034.9" cy="534.8" r="4.6"/>
<circle cx="1045.2" cy="590.9" r="4.6"/>
<circle cx="1061.6" cy="560.3" r="4.6"/>
<circle cx="1036.7" cy="530.1" r="4.6"/>
<circle cx="1015.8" cy="504.6" r="4.6"/>
<circle cx="1056.1" cy="583.4" r="4.6"/>
<circle cx="1046.2" cy="515.3" r="4.6"/>
<circle cx="1055.4" cy="568.9" r="4.6"/>
<circle cx="1042.6" cy="572.3" r="4.6"/>
<circle cx="1038.7" cy="523.5" r="4.6"/>
<circle cx="1038.8" cy="500.8" r="4.6"/>
<circle cx="1032.4" cy="565.6" r="4.6"/>
<circle cx="1049.4" cy="604.5" r="4.6"/>
<circle cx="1043.4" cy="498.4" r="4.6"/>
<circle cx="1068.3" cy="483.1" r="4.6"/>
<circle cx="1037.9" cy="480.4" r="4.6"/>
<circle cx="1042.1" cy="529.6" r="4.6"/>
<circle cx="1010.4" cy="511.2" r="4.6"/>
<circle cx="1022.3" cy="508.4" r="4.6"/>
<circle cx="1038.2" cy="566.7" r="4.6"/>
<circle cx="1048.2" cy="610.2" r="4.6"/>
<circle cx="1040.2" cy="513.9" r="4.6"/>
<circle cx="1046.7" cy="568.7" r="4.6"/>
<circle cx="1048.4" cy="601.1" r="4.6"/>
<circle cx="1013.1" cy="516.7" r="4.6"/>
<circle cx="1029.2" cy="481.6" r="4.6"/>
<circle cx="1014.1" cy="528.7" r="4.6"/>
<circle cx="1028.7" cy="569.7" r="4.6"/>
<circle cx="1050.6" cy="582.0" r="4.6"/>
<circle cx="1039.7" cy="514.5" r="4.6"/>
<circle cx="1036.3" cy="553.9" r="4.6"/>
<circle cx="1037.2" cy="536.4" r="4.6"/>
<circle cx="1048.3" cy="588.3" r="4.6"/>
<circle cx="1013.7" cy="481.7" r="4.6"/>
<circle cx="1024.7" cy="499.8" r="4.6"/>
<circle cx="1017.2" cy="507.7" r="4.6"/>
<circle cx="1036.7" cy="569.2" r="4.6"/>
<circle cx="1048.8" cy="593.1" r="4.6"/>
<circle cx="1049.2" cy="521.7" r="4.6"/>
<circle cx="1066.1" cy="486.7" r="4.6"/>
<circle cx="1036.9" cy="579.4" r="4.6"/>
<circle cx="1059.4" cy="480.9" r="4.6"/>
<circle cx="1009.4" cy="544.7" r="4.6"/>
<circle cx="1041.1" cy="583.1" r="4.6"/>
<circle cx="1044.4" cy="494.6" r="4.6"/>
<circle cx="1054.1" cy="512.3" r="4.6"/>
<circle cx="1047.0" cy="584.2" r="4.6"/>
<circle cx="1050.9" cy="576.6" r="4.6"/>
<circle cx="1006.5" cy="517.0" r="4.6"/>
<circle cx="1019.5" cy="557.0" r="4.6"/>
<circle cx="1049.8" cy="552.7" r="4.6"/>
<circle cx="999.6" cy="516.9" r="4.6"/>
<circle cx="1000.0" cy="510.2" r="4.6"/>
<circle cx="1050.5" cy="602.3" r="4.6"/>
<circle cx="1036.3" cy="512.8" r="4.6"/>
<circle cx="1055.4" cy="583.4" r="4.6"/>
<circle cx="1022.2" cy="525.4" r="4.6"/>
<circle cx="1046.4" cy="602.3" r="4.6"/>
<circle cx="1049.9" cy="606.2" r="4.6"/>
<circle cx="1038.5" cy="567.7" r="4.6"/>
<circle cx="1047.2" cy="616.1" r="4.6"/>
<circle cx="1052.6" cy="545.3" r="4.6"/>
<circle cx="1042.2" cy="599.2" r="4.6"/>
<circle cx="1032.6" cy="540.8" r="4.6"/>
<circle cx="1007.7" cy="522.8" r="4.6"/>
<circle cx="1030.0" cy="509.5" r="4.6"/>
<circle cx="1047.0" cy="606.6" r="4.6"/>
<circle cx="1047.9" cy="500.1" r="4.6"/>
<circle cx="1048.2" cy="609.1" r="4.6"/>
<circle cx="1037.1" cy="527.9" r="4.6"/>
<circle cx="1046.4" cy="485.8" r="4.6"/>
<circle cx="1036.5" cy="576.3" r="4.6"/>
<circle cx="1037.8" cy="582.4" r="4.6"/>
<circle cx="1029.4" cy="489.1" r="4.6"/>
<circle cx="1044.5" cy="593.6" r="4.6"/>
<circle cx="1048.4" cy="593.9" r="4.6"/>
<circle cx="1046.7" cy="600.6" r="4.6"/>
<circle cx="1049.2" cy="607.1" r="4.6"/>
<circle cx="1033.0" cy="508.6" r="4.6"/>
<circle cx="1070.5" cy="495.6" r="4.6"/>
<circle cx="1048.9" cy="592.9" r="4.6"/>
<circle cx="1049.3" cy="568.2" r="4.6"/>
<circle cx="1007.8" cy="519.9" r="4.6"/>
<circle cx="1065.4" cy="493.9" r="4.6"/>
<circle cx="1057.0" cy="508.5" r="4.6"/>
<circle cx="1029.7" cy="524.4" r="4.6"/>
<circle cx="1036.3" cy="515.7" r="4.6"/>
<circle cx="1029.6" cy="519.3" r="4.6"/>
<circle cx="1014.8" cy="524.6" r="4.6"/>
<circle cx="1045.9" cy="614.0" r="4.6"/>
<circle cx="1042.8" cy="565.9" r="4.6"/>
<circle cx="1027.2" cy="484.3" r="4.6"/>
<circle cx="1049.4" cy="587.5" r="4.6"/>
<circle cx="1027.2" cy="528.2" r="4.6"/>
<circle cx="1010.2" cy="510.1" r="4.6"/>
<circle cx="1053.9" cy="599.9" r="4.6"/>
<circle cx="1057.9" cy="503.7" r="4.6"/>
<circle cx="1052.0" cy="480.2" r="4.6"/>
<circle cx="1049.8" cy="615.9" r="4.6"/>
<circle cx="1022.5" cy="480.6" r="4.6"/>
<circle cx="1047.0" cy="590.8" r="4.6"/>
<circle cx="1018.4" cy="505.6" r="4.6"/>
<circle cx="1047.4" cy="595.6" r="4.6"/>
<circle cx="1050.5" cy="516.2" r="4.6"/>
<circle cx="1030.0" cy="509.8" r="4.6"/>
<circle cx="1040.8" cy="577.2" r="4.6"/>
<circle cx="1043.4" cy="568.5" r="4.6"/>
<circle cx="1048.4" cy="491.2" r="4.6"/>
<circle cx="1038.4" cy="589.4" r="4.6"/>
<circle cx="1037.4" cy="567.3" r="4.6"/>
<circle cx="1052.3" cy="534.8" r="4.6"/>
<circle cx="1053.5" cy="603.8" r="4.6"/>
<circle cx="1061.9" cy="483.5" r="4.6"/>
<circle cx="1032.6" cy="508.7" r="4.6"/>
<circle cx="1068.0" cy="549.7" r="4.6"/>
<circle cx="1046.5" cy="532.7" r="4.6"/>
<circle cx="1026.9" cy="544.1" r="4.6"/>
<circle cx="1039.8" cy="553.9" r="4.6"/>
<circle cx="1028.7" cy="569.8" r="4.6"/>
<circle cx="1028.9" cy="528.4" r="4.6"/>
<circle cx="1049.7" cy="597.2" r="4.6"/>
<circle cx="1043.4" cy="572.0" r="4.6"/>
<circle cx="1024.5" cy="541.0" r="4.6"/>
<circle cx="1043.6" cy="587.5" r="4.6"/>
<circle cx="1031.6" cy="544.2" r="4.6"/>
<circle cx="1047.9" cy="603.0" r="4.6"/>
<circle cx="1046.8" cy="521.9" r="4.6"/>
<circle cx="1046.8" cy="577.7" r="4.6"/>
<circle cx="1029.0" cy="501.7" r="4.6"/>
<circle cx="1022.2" cy="514.4" r="4.6"/>
<circle cx="1059.5" cy="502.4" r="4.6"/>
<circle cx="1053.3" cy="525.6" r="4.6"/>
<circle cx="1056.3" cy="581.3" r="4.6"/>
<circle cx="1048.8" cy="494.2" r="4.6"/>
<circle cx="1033.6" cy="533.4" r="4.6"/>
<circle cx="1048.7" cy="616.8" r="4.6"/>
<circle cx="1005.4" cy="540.5" r="4.6"/>
<circle cx="1030.4" cy="507.3" r="4.6"/>
<circle cx="1028.7" cy="508.7" r="4.6"/>
<circle cx="1055.8" cy="534.0" r="4.6"/>
<circle cx="1047.7" cy="589.9" r="4.6"/>
<circle cx="1033.6" cy="576.4" r="4.6"/>
<circle cx="1036.3" cy="544.4" r="4.6"/>
<circle cx="1023.6" cy="499.7" r="4.6"/>
<circle cx="1041.5" cy="583.0" r="4.6"/>
<circle cx="1044.2" cy="606.2" r="4.6"/>
<circle cx="1049.1" cy="584.1" r="4.6"/>
<circle cx="1041.3" cy="538.5" r="4.6"/>
<circle cx="1053.5" cy="602.3" r="4.6"/>
<circle cx="1042.8" cy="587.6" r="4.6"/>
<circle cx="1030.8" cy="574.5" r="4.6"/>
<circle cx="1036.0" cy="569.2" r="4.6"/>
<circle cx="1045.6" cy="567.3" r="4.6"/>
<circle cx="1014.0" cy="493.6" r="4.6"/>
<circle cx="1050.7" cy="579.1" r="4.6"/>
<circle cx="1043.3" cy="567.5" r="4.6"/>
<circle cx="1057.3" cy="543.3" r="4.6"/>
<circle cx="1031.1" cy="566.4" r="4.6"/>
<circle cx="1050.1" cy="609.3" r="4.6"/>
<circle cx="1017.3" cy="505.4" r="4.6"/>
<circle cx="1007.0" cy="534.0" r="4.6"/>
<circle cx="1041.5" cy="548.1" r="4.6"/>
<circle cx="1039.6" cy="555.5" r="4.6"/>
<circle cx="1047.6" cy="502.4" r="4.6"/>
<circle cx="1009.2" cy="552.2" r="4.6"/>
<circle cx="1021.1" cy="494.1" r="4.6"/>
<circle cx="1040.9" cy="579.7" r="4.6"/>
<circle cx="1015.5" cy="551.2" r="4.6"/>
<circle cx="1013.7" cy="552.5" r="4.6"/>
<circle cx="1050.1" cy="537.0" r="4.6"/>
<circle cx="1042.3" cy="575.1" r="4.6"/>
<circle cx="1036.9" cy="534.6" r="4.6"/>
<circle cx="1048.1" cy="616.8" r="4.6"/>
<circle cx="1049.5" cy="529.4" r="4.6"/>
<circle cx="1042.1" cy="535.6" r="4.6"/>
<circle cx="1027.0" cy="481.8" r="4.6"/>
<circle cx="1048.1" cy="577.1" r="4.6"/>
<circle cx="1033.0" cy="528.9" r="4.6"/>
<circle cx="1050.0" cy="583.1" r="4.6"/>
<circle cx="1046.4" cy="610.7" r="4.6"/>
<circle cx="1046.1" cy="591.4" r="4.6"/>
<circle cx="1038.6" cy="534.5" r="4.6"/>
<circle cx="1049.2" cy="587.9" r="4.6"/>
<circle cx="1043.1" cy="592.5" r="4.6"/>
<circle cx="1031.5" cy="558.1" r="4.6"/>
<circle cx="1055.2" cy="511.4" r="4.6"/>
<circle cx="1041.5" cy="568.8" r="4.6"/>
<circle cx="1049.2" cy="593.8" r="4.6"/>
<circle cx="1012.7" cy="520.9" r="4.6"/>
<circle cx="1059.4" cy="556.2" r="4.6"/>
<circle cx="1061.2" cy="529.3" r="4.6"/>
<circle cx="1047.1" cy="598.2" r="4.6"/>
<circle cx="1055.1" cy="515.2" r="4.6"/>
<circle cx="1037.4" cy="539.2" r="4.6"/>
<circle cx="1045.4" cy="580.3" r="4.6"/>
<circle cx="1034.5" cy="519.1" r="4.6"/>
<circle cx="1052.8" cy="546.7" r="4.6"/>
<circle cx="1017.6" cy="539.6" r="4.6"/>
<circle cx="1012.6" cy="530.4" r="4.6"/>
<circle cx="1048.5" cy="609.1" r="4.6"/>
<circle cx="1045.9" cy="595.1" r="4.6"/>
<circle cx="1048.2" cy="605.9" r="4.6"/>
<circle cx="1044.7" cy="595.6" r="4.6"/>
<circle cx="1044.8" cy="568.0" r="4.6"/>
<circle cx="1048.2" cy="612.3" r="4.6"/>
<circle cx="1043.6" cy="571.2" r="4.6"/>
<circle cx="1047.9" cy="499.8" r="4.6"/>
<circle cx="1038.1" cy="512.5" r="4.6"/>
<circle cx="1020.9" cy="501.2" r="4.6"/>
<circle cx="1048.3" cy="605.7" r="4.6"/>
<circle cx="1045.8" cy="603.9" r="4.6"/>
<circle cx="1045.8" cy="564.6" r="4.6"/>
<circle cx="1042.9" cy="604.3" r="4.6"/>
<circle cx="1048.4" cy="589.5" r="4.6"/>
<circle cx="1040.0" cy="576.3" r="4.6"/>
<circle cx="1038.1" cy="553.8" r="4.6"/>
<circle cx="1043.9" cy="602.7" r="4.6"/>
<circle cx="1040.5" cy="557.2" r="4.6"/>
<circle cx="1053.0" cy="499.4" r="4.6"/>
<circle cx="1056.3" cy="548.5" r="4.6"/>
<circle cx="1046.7" cy="500.1" r="4.6"/>
<circle cx="1012.0" cy="548.3" r="4.6"/>
<circle cx="1047.7" cy="599.9" r="4.6"/>
<circle cx="1053.8" cy="480.9" r="4.6"/>
<circle cx="1030.2" cy="558.2" r="4.6"/>
<circle cx="1048.0" cy="572.5" r="4.6"/>
<circle cx="1020.3" cy="538.2" r="4.6"/>
<circle cx="1050.2" cy="613.5" r="4.6"/>
<circle cx="1049.4" cy="568.4" r="4.6"/>
<circle cx="1022.8" cy="484.0" r="4.6"/>
<circle cx="1045.5" cy="609.5" r="4.6"/>
<circle cx="1056.8" cy="525.9" r="4.6"/>
<circle cx="1033.5" cy="547.4" r="4.6"/>
<circle cx="1052.9" cy="604.8" r="4.6"/>
<circle cx="1046.5" cy="566.9" r="4.6"/>
<circle cx="1046.0" cy="527.1" r="4.6"/>
<circle cx="1022.0" cy="546.0" r="4.6"/>
<circle cx="1039.9" cy="553.0" r="4.6"/>
<circle cx="1023.0" cy="540.5" r="4.6"/>
<circle cx="1003.1" cy="538.7" r="4.6"/>
<circle cx="1021.0" cy="520.7" r="4.6"/>
<circle cx="1042.6" cy="595.1" r="4.6"/>
<circle cx="1048.2" cy="517.8" r="4.6"/>
<circle cx="1063.3" cy="550.4" r="4.6"/>
<circle cx="1045.3" cy="590.1" r="4.6"/>
<circle cx="1026.7" cy="526.0" r="4.6"/>
<circle cx="1050.8" cy="561.5" r="4.6"/>
<circle cx="1043.9" cy="568.2" r="4.6"/>
<circle cx="1043.1" cy="580.5" r="4.6"/>
<circle cx="1046.7" cy="603.1" r="4.6"/>
<circle cx="1031.8" cy="521.8" r="4.6"/>
<circle cx="1057.8" cy="480.9" r="4.6"/>
<circle cx="1059.8" cy="564.6" r="4.6"/>
<circle cx="1048.1" cy="571.5" r="4.6"/>
<circle cx="1026.3" cy="565.0" r="4.6"/>
<circle cx="1032.6" cy="565.7" r="4.6"/>
<circle cx="1030.7" cy="562.9" r="4.6"/>
<circle cx="1046.6" cy="574.7" r="4.6"/>
<circle cx="1065.0" cy="543.6" r="4.6"/>
<circle cx="1049.0" cy="586.0" r="4.6"/>
<circle cx="1049.6" cy="485.1" r="4.6"/>
<circle cx="1053.3" cy="587.7" r="4.6"/>
<circle cx="1020.1" cy="531.3" r="4.6"/>
<circle cx="1048.5" cy="594.3" r="4.6"/>
<circle cx="1007.5" cy="515.9" r="4.6"/>
<circle cx="1018.0" cy="522.0" r="4.6"/>
<circle cx="1045.1" cy="539.9" r="4.6"/>
<circle cx="1046.2" cy="569.2" r="4.6"/>
<circle cx="1040.4" cy="558.9" r="4.6"/>
<circle cx="1066.2" cy="485.5" r="4.6"/>
<circle cx="1056.7" cy="560.0" r="4.6"/>
<circle cx="1047.5" cy="607.7" r="4.6"/>
<circle cx="1037.0" cy="533.8" r="4.6"/>
<circle cx="1060.6" cy="562.3" r="4.6"/>
<circle cx="1015.3" cy="546.1" r="4.6"/>
<circle cx="1060.4" cy="537.3" r="4.6"/>
<circle cx="1054.6" cy="509.5" r="4.6"/>
<circle cx="1040.5" cy="501.1" r="4.6"/>
<circle cx="1044.1" cy="575.0" r="4.6"/>
<circle cx="1047.6" cy="496.9" r="4.6"/>
<circle cx="1047.3" cy="600.9" r="4.6"/>
<circle cx="1069.2" cy="497.9" r="4.6"/>
<circle cx="1038.3" cy="513.7" r="4.6"/>
<circle cx="1046.0" cy="582.0" r="4.6"/>
<circle cx="1047.9" cy="587.6" r="4.6"/>
<circle cx="1051.8" cy="579.2" r="4.6"/>
<circle cx="1019.7" cy="491.7" r="4.6"/>
<circle cx="1040.7" cy="567.4" r="4.6"/>
<circle cx="1045.3" cy="609.6" r="4.6"/>
<circle cx="1067.6" cy="515.3" r="4.6"/>
<circle cx="1036.8" cy="481.6" r="4.6"/>
<circle cx="1024.1" cy="482.0" r="4.6"/>
<circle cx="1016.3" cy="491.1" r="4.6"/>
<circle cx="1031.9" cy="523.2" r="4.6"/>
<circle cx="1045.2" cy="599.7" r="4.6"/>
<circle cx="1053.4" cy="547.6" r="4.6"/>
<circle cx="1046.3" cy="559.9" r="4.6"/>
<circle cx="1031.7" cy="541.0" r="4.6"/>
<circle cx="1044.0" cy="590.8" r="4.6"/>
<circle cx="1017.6" cy="530.5" r="4.6"/>
<circle cx="1014.3" cy="538.1" r="4.6"/>
<circle cx="1046.8" cy="533.6" r="4.6"/>
<circle cx="1037.4" cy="589.1" r="4.6"/>
<circle cx="1040.9" cy="558.8" r="4.6"/>
<circle cx="1048.7" cy="615.4" r="4.6"/>
<circle cx="1047.5" cy="577.8" r="4.6"/>
<circle cx="1034.6" cy="564.2" r="4.6"/>
<circle cx="1048.9" cy="615.9" r="4.6"/>
<circle cx="1009.7" cy="522.9" r="4.6"/>
<circle cx="1051.8" cy="539.6" r="4.6"/>
<circle cx="1039.2" cy="575.2" r="4.6"/>
<circle cx="1057.8" cy="563.6" r="4.6"/>
<circle cx="1011.0" cy="519.4" r="4.6"/>
<circle cx="1041.5" cy="480.2" r="4.6"/>
<circle cx="1053.9" cy="561.5" r="4.6"/>
<circle cx="1048.0" cy="593.4" r="4.6"/>
<circle cx="1046.4" cy="595.8" r="4.6"/>
<circle cx="1051.2" cy="592.8" r="4.6"/>
<circle cx="1013.8" cy="518.1" r="4.6"/>
<circle cx="1049.8" cy="598.3" r="4.6"/>
<circle cx="1043.7" cy="607.0" r="4.6"/>
<circle cx="1055.8" cy="528.2" r="4.6"/>
<circle cx="1050.0" cy="590.8" r="4.6"/>
<circle cx="1036.7" cy="507.9" r="4.6"/>
<circle cx="998.3" cy="512.5" r="4.6"/>
<circle cx="1037.8" cy="564.4" r="4.6"/>
<circle cx="1015.0" cy="508.7" r="4.6"/>
<circle cx="1034.5" cy="515.4" r="4.6"/>
<circle cx="1003.5" cy="543.9" r="4.6"/>
<circle cx="1052.1" cy="492.2" r="4.6"/>
<circle cx="999.6" cy="512.4" r="4.6"/>
<circle cx="1061.4" cy="560.6" r="4.6"/>
<circle cx="1016.9" cy="552.5" r="4.6"/>
<circle cx="1025.6" cy="546.2" r="4.6"/>
<circle cx="1029.8" cy="506.7" r="4.6"/>
<circle cx="1031.6" cy="505.1" r="4.6"/>
<circle cx="1030.8" cy="558.5" r="4.6"/>
<circle cx="1025.1" cy="535.9" r="4.6"/>
<circle cx="1042.1" cy="486.2" r="4.6"/>
<circle cx="1048.4" cy="618.6" r="4.6"/>
<circle cx="1046.5" cy="568.0" r="4.6"/>
<circle cx="1050.5" cy="589.4" r="4.6"/>
<circle cx="1056.3" cy="527.9" r="4.6"/>
<circle cx="1042.3" cy="552.2" r="4.6"/>
<circle cx="1048.4" cy="617.7" r="4.6"/>
<circle cx="1042.6" cy="600.4" r="4.6"/>
<circle cx="1036.5" cy="516.4" r="4.6"/>
<circle cx="1037.1" cy="588.3" r="4.6"/>
<circle cx="1052.4" cy="586.6" r="4.6"/>
<circle cx="1050.6" cy="593.8" r="4.6"/>
<circle cx="1040.1" cy="485.3" r="4.6"/>
<circle cx="1040.3" cy="507.9" r="4.6"/>
<circle cx="1049.6" cy="487.1" r="4.6"/>
<circle cx="1051.5" cy="557.5" r="4.6"/>
<circle cx="1046.4" cy="611.7" r="4.6"/>
<circle cx="1051.6" cy="606.5" r="4.6"/>
<circle cx="1047.0" cy="535.2" r="4.6"/>
<circle cx="1053.7" cy="496.7" r="4.6"/>
<circle cx="1039.6" cy="558.5" r="4.6"/>
<circle cx="1056.4" cy="569.0" r="4.6"/>
<circle cx="1028.0" cy="534.6" r="4.6"/>
<circle cx="1064.4" cy="542.3" r="4.6"/>
<circle cx="1049.0" cy="617.8" r="4.6"/>
<circle cx="1051.9" cy="510.8" r="4.6"/>
<circle cx="1038.0" cy="528.9" r="4.6"/>
<circle cx="1052.8" cy="605.5" r="4.6"/>
<circle cx="1024.7" cy="486.5" r="4.6"/>
<circle cx="1044.5" cy="589.3" r="4.6"/>
<circle cx="1047.6" cy="617.0" r="4.6"/>
<circle cx="1060.7" cy="487.8" r="4.6"/>
<circle cx="1051.2" cy="610.6" r="4.6"/>
<circle cx="1040.6" cy="574.1" r="4.6"/>
<circle cx="1053.5" cy="585.3" r="4.6"/>
<circle cx="1034.4" cy="494.7" r="4.6"/>
<circle cx="1052.6" cy="497.3" r="4.6"/>
<circle cx="1043.3" cy="546.9" r="4.6"/>
<circle cx="1051.3" cy="499.9" r="4.6"/>
<circle cx="1056.3" cy="574.2" r="4.6"/>
<circle cx="1039.5" cy="507.1" r="4.6"/>
<circle cx="1054.1" cy="485.0" r="4.6"/>
<circle cx="1047.2" cy="609.8" r="4.6"/>
<circle cx="1049.3" cy="600.5" r="4.6"/>
<circle cx="1029.6" cy="542.2" r="4.6"/>
<circle cx="1070.6" cy="493.5" r="4.6"/>
<circle cx="1035.5" cy="567.3" r="4.6"/>
<circle cx="1016.8" cy="542.9" r="4.6"/>
<circle cx="1067.0" cy="546.4" r="4.6"/>
<circle cx="1047.5" cy="567.3" r="4.6"/>
<circle cx="1052.6" cy="487.9" r="4.6"/>
<circle cx="1041.0" cy="579.2" r="4.6"/>
<circle cx="1047.0" cy="601.0" r="4.6"/>
<circle cx="1023.6" cy="517.0" r="4.6"/>
<circle cx="1040.5" cy="517.7" r="4.6"/>
<circle cx="1046.0" cy="596.7" r="4.6"/>
<circle cx="1046.2" cy="548.2" r="4.6"/>
<circle cx="1041.4" cy="524.2" r="4.6"/>
<circle cx="1048.1" cy="616.0" r="4.6"/>
<circle cx="1063.1" cy="487.9" r="4.6"/>
<circle cx="1016.7" cy="509.4" r="4.6"/>
<circle cx="1032.9" cy="546.4" r="4.6"/>
<circle cx="1052.4" cy="508.0" r="4.6"/>
<circle cx="1068.2" cy="530.6" r="4.6"/>
<circle cx="1047.4" cy="608.6" r="4.6"/>
<circle cx="1031.8" cy="493.6" r="4.6"/>
<circle cx="1071.5" cy="488.0" r="4.6"/>
<circle cx="1040.0" cy="581.0" r="4.6"/>
<circle cx="1072.3" cy="482.2" r="4.6"/>
<circle cx="1045.3" cy="592.2" r="4.6"/>
<circle cx="1051.3" cy="480.3" r="4.6"/>
<circle cx="1044.3" cy="595.7" r="4.6"/>
<circle cx="1034.6" cy="540.5" r="4.6"/>
<circle cx="1048.7" cy="606.8" r="4.6"/>
<circle cx="1063.4" cy="499.2" r="4.6"/>
<circle cx="1041.6" cy="505.0" r="4.6"/>
<circle cx="1004.1" cy="507.3" r="4.6"/>
<circle cx="1062.4" cy="491.0" r="4.6"/>
<circle cx="1049.8" cy="548.9" r="4.6"/>
<circle cx="1041.9" cy="518.1" r="4.6"/>
<circle cx="1054.1" cy="578.4" r="4.6"/>
<circle cx="1044.0" cy="592.8" r="4.6"/>
<circle cx="1037.3" cy="489.1" r="4.6"/>
<circle cx="1036.4" cy="581.8" r="4.6"/>
<circle cx="1058.0" cy="487.7" r="4.6"/>
<circle cx="1042.0" cy="592.7" r="4.6"/>
<circle cx="1054.2" cy="600.2" r="4.6"/>
<circle cx="1068.3" cy="548.5" r="4.6"/>
<circle cx="1040.4" cy="546.2" r="4.6"/>
<circle cx="1047.4" cy="601.2" r="4.6"/>
<circle cx="1050.1" cy="595.6" r="4.6"/>
<circle cx="1045.0" cy="531.0" r="4.6"/>
<circle cx="1051.4" cy="562.7" r="4.6"/>
<circle cx="1023.9" cy="480.6" r="4.6"/>
<circle cx="1035.1" cy="551.7" r="4.6"/>
<circle cx="1032.5" cy="496.8" r="4.6"/>
<circle cx="1041.0" cy="600.3" r="4.6"/>
<circle cx="1028.6" cy="524.6" r="4.6"/>
<circle cx="1039.8" cy="584.4" r="4.6"/>
<circle cx="1071.4" cy="488.5" r="4.6"/>
<circle cx="1003.9" cy="548.8" r="4.6"/>
<circle cx="1015.5" cy="551.4" r="4.6"/>
<circle cx="1038.9" cy="482.9" r="4.6"/>
<circle cx="1048.4" cy="614.5" r="4.6"/>
<circle cx="1051.9" cy="494.3" r="4.6"/>
<circle cx="1036.5" cy="514.8" r="4.6"/>
<circle cx="1037.2" cy="493.4" r="4.6"/>
<circle cx="1044.8" cy="577.2" r="4.6"/>
<circle cx="1044.5" cy="563.3" r="4.6"/>
<circle cx="1024.1" cy="560.1" r="4.6"/>
<circle cx="1036.8" cy="494.3" r="4.6"/>
<circle cx="1047.4" cy="600.9" r="4.6"/>
<circle cx="1034.3" cy="497.1" r="4.6"/>
<circle cx="1020.5" cy="548.6" r="4.6"/>
<circle cx="1039.8" cy="497.0" r="4.6"/>
<circle cx="1054.4" cy="536.4" r="4.6"/>
<circle cx="1051.7" cy="599.7" r="4.6"/>
<circle cx="1010.2" cy="500.5" r="4.6"/>
<circle cx="1023.6" cy="502.8" r="4.6"/>
<circle cx="1051.4" cy="594.8" r="4.6"/>
<circle cx="1029.2" cy="538.4" r="4.6"/>
<circle cx="1042.9" cy="596.7" r="4.6"/>
<circle cx="1047.7" cy="610.8" r="4.6"/>
<circle cx="1044.1" cy="588.0" r="4.6"/>
<circle cx="1046.1" cy="526.6" r="4.6"/>
<circle cx="1070.2" cy="540.5" r="4.6"/>
<circle cx="1047.3" cy="606.9" r="4.6"/>
<circle cx="1047.9" cy="593.3" r="4.6"/>
<circle cx="1032.9" cy="551.9" r="4.6"/>
<circle cx="1049.4" cy="613.1" r="4.6"/>
<circle cx="1030.7" cy="538.7" r="4.6"/>
<circle cx="1035.8" cy="567.9" r="4.6"/>
<circle cx="1058.6" cy="489.6" r="4.6"/>
<circle cx="1032.6" cy="540.2" r="4.6"/>
<circle cx="1039.0" cy="499.4" r="4.6"/>
<circle cx="1048.7" cy="614.8" r="4.6"/>
<circle cx="1027.9" cy="568.0" r="4.6"/>
<circle cx="1054.6" cy="592.5" r="4.6"/>
<circle cx="1019.2" cy="484.8" r="4.6"/>
</g>
<g fill="#3D81C4">
<circle cx="961.3" cy="78.0" r="4.6"/>
<circle cx="1028.2" cy="102.3" r="4.6"/>
<circle cx="1018.5" cy="113.1" r="4.6"/>
<circle cx="1006.1" cy="134.1" r="4.6"/>
<circle cx="1024.6" cy="144.6" r="4.6"/>
<circle cx="970.7" cy="157.3" r="4.6"/>
<circle cx="993.1" cy="174.7" r="4.6"/>
<circle cx="1031.5" cy="186.1" r="4.6"/>
<circle cx="1020.2" cy="196.3" r="4.6"/>
<circle cx="1037.9" cy="212.6" r="4.6"/>
<circle cx="970.7" cy="216.8" r="4.6"/>
<circle cx="1027.6" cy="218.1" r="4.6"/>
<circle cx="1033.2" cy="224.5" r="4.6"/>
<circle cx="1007.4" cy="225.3" r="4.6"/>
<circle cx="1013.8" cy="229.5" r="4.6"/>
<circle cx="962.4" cy="228.9" r="4.6"/>
<circle cx="889.9" cy="227.3" r="4.6"/>
<circle cx="1032.3" cy="231.4" r="4.6"/>
<circle cx="1021.5" cy="236.9" r="4.6"/>
<circle cx="1038.7" cy="234.2" r="4.6"/>
<circle cx="1039.2" cy="246.6" r="4.6"/>
<circle cx="932.8" cy="258.5" r="4.6"/>
<circle cx="950.2" cy="258.0" r="4.6"/>
<circle cx="970.7" cy="259.1" r="4.6"/>
<circle cx="1020.2" cy="259.1" r="4.6"/>
<circle cx="1033.2" cy="258.0" r="4.6"/>
<circle cx="953.5" cy="266.0" r="4.6"/>
<circle cx="954.9" cy="272.9" r="4.6"/>
<circle cx="894.9" cy="273.7" r="4.6"/>
<circle cx="987.3" cy="270.1" r="4.6"/>
<circle cx="992.2" cy="272.9" r="4.6"/>
<circle cx="996.9" cy="282.8" r="4.6"/>
<circle cx="1010.2" cy="284.8" r="4.6"/>
<circle cx="1024.0" cy="279.0" r="4.6"/>
<circle cx="1026.8" cy="281.2" r="4.6"/>
<circle cx="972.3" cy="293.1" r="4.6"/>
<circle cx="1037.0" cy="291.7" r="4.6"/>
<circle cx="956.8" cy="305.5" r="4.6"/>
<circle cx="1033.7" cy="300.5" r="4.6"/>
<circle cx="1035.1" cy="306.1" r="4.6"/>
<circle cx="1039.2" cy="306.1" r="4.6"/>
<circle cx="1005.5" cy="320.2" r="4.6"/>
<circle cx="1010.2" cy="314.9" r="4.6"/>
<circle cx="1018.5" cy="313.8" r="4.6"/>
<circle cx="1021.3" cy="312.1" r="4.6"/>
<circle cx="981.2" cy="323.5" r="4.6"/>
<circle cx="977.0" cy="330.4" r="4.6"/>
<circle cx="979.8" cy="330.9" r="4.6"/>
<circle cx="1026.8" cy="325.4" r="4.6"/>
<circle cx="1032.3" cy="326.8" r="4.6"/>
<circle cx="1026.0" cy="335.1" r="4.6"/>
<circle cx="1033.7" cy="336.5" r="4.6"/>
<circle cx="1003.3" cy="339.8" r="4.6"/>
<circle cx="1011.6" cy="342.6" r="4.6"/>
<circle cx="1037.9" cy="339.2" r="4.6"/>
<circle cx="994.2" cy="356.7" r="4.6"/>
<circle cx="1001.9" cy="350.3" r="4.6"/>
<circle cx="1022.6" cy="348.9" r="4.6"/>
<circle cx="982.6" cy="361.4" r="4.6"/>
<circle cx="1013.0" cy="357.2" r="4.6"/>
<circle cx="1025.4" cy="357.2" r="4.6"/>
<circle cx="936.1" cy="377.1" r="4.6"/>
<circle cx="961.3" cy="378.5" r="4.6"/>
<circle cx="960.4" cy="382.6" r="4.6"/>
<circle cx="970.7" cy="382.6" r="4.6"/>
<circle cx="918.4" cy="400.9" r="4.6"/>
<circle cx="968.7" cy="402.8" r="4.6"/>
<circle cx="987.3" cy="404.8" r="4.6"/>
<circle cx="996.4" cy="396.7" r="4.6"/>
<circle cx="1000.5" cy="395.9" r="4.6"/>
<circle cx="983.4" cy="429.1" r="4.6"/>
<circle cx="989.5" cy="422.2" r="4.6"/>
<circle cx="996.4" cy="418.0" r="4.6"/>
<circle cx="970.9" cy="424.4" r="4.6"/>
<circle cx="975.1" cy="424.4" r="4.6"/>
<circle cx="957.7" cy="430.5" r="4.6"/>
<circle cx="943.9" cy="435.2" r="4.6"/>
<circle cx="992.2" cy="432.7" r="4.6"/>
<circle cx="995.0" cy="433.8" r="4.6"/>
<circle cx="956.8" cy="444.8" r="4.6"/>
<circle cx="970.1" cy="447.1" r="4.6"/>
<circle cx="953.5" cy="458.1" r="4.6"/>
<circle cx="976.2" cy="465.0" r="4.6"/>
<circle cx="986.2" cy="460.9" r="4.6"/>
<circle cx="991.7" cy="454.0" r="4.6"/>
<circle cx="1000.5" cy="445.7" r="4.6"/>
<circle cx="1003.3" cy="459.5" r="4.6"/>
<circle cx="796.2" cy="468.6" r="4.6"/>
<circle cx="959.1" cy="474.7" r="4.6"/>
<circle cx="964.6" cy="476.1" r="4.6"/>
<circle cx="971.5" cy="476.1" r="4.6"/>
<circle cx="983.9" cy="473.3" r="4.6"/>
<circle cx="957.5" cy="305.6" r="4.6"/>
<circle cx="981.3" cy="323.1" r="4.6"/>
<circle cx="977.5" cy="330.6" r="4.6"/>
<circle cx="980.0" cy="331.3" r="4.6"/>
<circle cx="1005.7" cy="320.6" r="4.6"/>
<circle cx="1010.1" cy="315.0" r="4.6"/>
<circle cx="1020.1" cy="312.5" r="4.6"/>
<circle cx="1016.3" cy="315.6" r="4.6"/>
<circle cx="1003.8" cy="339.4" r="4.6"/>
<circle cx="1011.3" cy="341.9" r="4.6"/>
<circle cx="994.4" cy="356.9" r="4.6"/>
<circle cx="982.5" cy="361.7" r="4.6"/>
<circle cx="1000.7" cy="350.0" r="4.6"/>
<circle cx="1005.0" cy="352.5" r="4.6"/>
<circle cx="1021.3" cy="348.2" r="4.6"/>
<circle cx="961.3" cy="378.2" r="4.6"/>
<circle cx="960.6" cy="382.6" r="4.6"/>
<circle cx="971.3" cy="383.2" r="4.6"/>
<circle cx="997.5" cy="396.3" r="4.6"/>
<circle cx="1001.3" cy="395.7" r="4.6"/>
<circle cx="968.8" cy="402.6" r="4.6"/>
<circle cx="987.5" cy="404.8" r="4.6"/>
<circle cx="995.7" cy="417.0" r="4.6"/>
<circle cx="989.4" cy="422.0" r="4.6"/>
<circle cx="983.2" cy="428.6" r="4.6"/>
<circle cx="970.0" cy="423.8" r="4.6"/>
<circle cx="973.8" cy="423.8" r="4.6"/>
<circle cx="958.1" cy="430.1" r="4.6"/>
<circle cx="943.8" cy="435.1" r="4.6"/>
<circle cx="957.5" cy="445.1" r="4.6"/>
<circle cx="970.0" cy="447.0" r="4.6"/>
<circle cx="953.5" cy="458.2" r="4.6"/>
<circle cx="976.3" cy="464.5" r="4.6"/>
<circle cx="985.0" cy="473.3" r="4.6"/>
<circle cx="1001.9" cy="459.9" r="4.6"/>
<circle cx="986.3" cy="460.7" r="4.6"/>
<circle cx="958.8" cy="475.1" r="4.6"/>
<circle cx="965.0" cy="477.6" r="4.6"/>
<circle cx="971.3" cy="477.6" r="4.6"/>
<circle cx="993.8" cy="477.6" r="4.6"/>
<circle cx="1007.6" cy="425.1" r="4.6"/>
<circle cx="1006.3" cy="418.8" r="4.6"/>
<circle cx="1013.8" cy="416.3" r="4.6"/>
<circle cx="1032.6" cy="458.2" r="4.6"/>
<circle cx="1039.9" cy="426.6" r="4.6"/>
<circle cx="1022.0" cy="465.9" r="4.6"/>
<circle cx="1042.9" cy="417.4" r="4.6"/>
<circle cx="1022.4" cy="387.4" r="4.6"/>
<circle cx="1038.7" cy="446.6" r="4.6"/>
<circle cx="1037.8" cy="366.9" r="4.6"/>
<circle cx="1036.1" cy="413.1" r="4.6"/>
<circle cx="1029.6" cy="471.0" r="4.6"/>
<circle cx="1041.8" cy="392.6" r="4.6"/>
<circle cx="1041.0" cy="455.8" r="4.6"/>
<circle cx="1033.4" cy="337.8" r="4.6"/>
<circle cx="1032.6" cy="383.0" r="4.6"/>
<circle cx="1042.7" cy="364.1" r="4.6"/>
<circle cx="1035.7" cy="405.4" r="4.6"/>
<circle cx="1023.3" cy="448.7" r="4.6"/>
<circle cx="1036.3" cy="409.2" r="4.6"/>
<circle cx="1033.8" cy="431.7" r="4.6"/>
<circle cx="1020.6" cy="391.7" r="4.6"/>
<circle cx="1036.0" cy="393.0" r="4.6"/>
<circle cx="1031.2" cy="466.9" r="4.6"/>
<circle cx="1026.3" cy="353.5" r="4.6"/>
<circle cx="1041.7" cy="411.7" r="4.6"/>
<circle cx="1022.7" cy="319.9" r="4.6"/>
<circle cx="1016.0" cy="356.2" r="4.6"/>
<circle cx="1036.1" cy="434.4" r="4.6"/>
<circle cx="1028.8" cy="363.6" r="4.6"/>
<circle cx="1041.9" cy="441.5" r="4.6"/>
<circle cx="1011.6" cy="343.4" r="4.6"/>
<circle cx="1029.0" cy="388.4" r="4.6"/>
<circle cx="1036.6" cy="441.3" r="4.6"/>
<circle cx="1042.3" cy="388.4" r="4.6"/>
<circle cx="1034.9" cy="354.0" r="4.6"/>
<circle cx="1042.3" cy="471.5" r="4.6"/>
<circle cx="1033.2" cy="371.9" r="4.6"/>
<circle cx="1022.6" cy="442.0" r="4.6"/>
<circle cx="1024.5" cy="416.6" r="4.6"/>
<circle cx="1017.5" cy="400.8" r="4.6"/>
<circle cx="1041.8" cy="436.2" r="4.6"/>
<circle cx="1014.3" cy="394.0" r="4.6"/>
<circle cx="1016.9" cy="464.3" r="4.6"/>
<circle cx="1019.0" cy="464.4" r="4.6"/>
<circle cx="1018.3" cy="318.7" r="4.6"/>
<circle cx="1025.9" cy="440.5" r="4.6"/>
<circle cx="1032.8" cy="472.0" r="4.6"/>
<circle cx="1035.3" cy="440.6" r="4.6"/>
<circle cx="1026.8" cy="443.4" r="4.6"/>
<circle cx="1026.3" cy="378.7" r="4.6"/>
<circle cx="1016.7" cy="390.4" r="4.6"/>
<circle cx="1035.9" cy="364.9" r="4.6"/>
<circle cx="1029.3" cy="438.6" r="4.6"/>
<circle cx="1029.9" cy="379.5" r="4.6"/>
<circle cx="1016.1" cy="453.9" r="4.6"/>
<circle cx="1032.8" cy="397.9" r="4.6"/>
<circle cx="1039.3" cy="366.6" r="4.6"/>
<circle cx="1025.4" cy="445.9" r="4.6"/>
<circle cx="1010.5" cy="411.1" r="4.6"/>
<circle cx="1022.9" cy="369.8" r="4.6"/>
<circle cx="1020.4" cy="452.9" r="4.6"/>
<circle cx="1006.5" cy="350.7" r="4.6"/>
<circle cx="1026.3" cy="399.3" r="4.6"/>
<circle cx="1022.0" cy="319.7" r="4.6"/>
<circle cx="1036.6" cy="397.6" r="4.6"/>
<circle cx="1039.9" cy="465.2" r="4.6"/>
<circle cx="1022.1" cy="477.7" r="4.6"/>
<circle cx="1040.8" cy="430.0" r="4.6"/>
<circle cx="1030.7" cy="427.6" r="4.6"/>
<circle cx="1032.8" cy="413.2" r="4.6"/>
<circle cx="1018.8" cy="374.2" r="4.6"/>
<circle cx="1034.8" cy="402.0" r="4.6"/>
<circle cx="1033.4" cy="446.5" r="4.6"/>
<circle cx="1022.4" cy="382.1" r="4.6"/>
<circle cx="1034.7" cy="458.8" r="4.6"/>
<circle cx="1024.8" cy="472.3" r="4.6"/>
<circle cx="1041.5" cy="417.9" r="4.6"/>
<circle cx="1042.6" cy="441.3" r="4.6"/>
<circle cx="1038.8" cy="402.8" r="4.6"/>
<circle cx="1033.5" cy="368.9" r="4.6"/>
<circle cx="1033.6" cy="474.5" r="4.6"/>
<circle cx="1024.9" cy="335.7" r="4.6"/>
<circle cx="1027.0" cy="429.8" r="4.6"/>
<circle cx="1007.5" cy="449.3" r="4.6"/>
<circle cx="1040.8" cy="385.3" r="4.6"/>
<circle cx="1037.9" cy="343.0" r="4.6"/>
<circle cx="1023.3" cy="398.8" r="4.6"/>
<circle cx="1033.0" cy="468.4" r="4.6"/>
<circle cx="1030.3" cy="418.8" r="4.6"/>
<circle cx="1033.4" cy="477.0" r="4.6"/>
<circle cx="1026.1" cy="419.8" r="4.6"/>
<circle cx="1038.4" cy="444.0" r="4.6"/>
<circle cx="1018.6" cy="456.6" r="4.6"/>
<circle cx="1032.0" cy="318.6" r="4.6"/>
<circle cx="1012.2" cy="411.8" r="4.6"/>
<circle cx="1036.4" cy="424.9" r="4.6"/>
<circle cx="1024.2" cy="406.5" r="4.6"/>
<circle cx="1018.6" cy="472.2" r="4.6"/>
<circle cx="1020.8" cy="403.0" r="4.6"/>
<circle cx="1042.6" cy="383.8" r="4.6"/>
<circle cx="1027.1" cy="337.4" r="4.6"/>
<circle cx="1019.1" cy="335.1" r="4.6"/>
<circle cx="1036.9" cy="458.2" r="4.6"/>
<circle cx="1032.6" cy="401.6" r="4.6"/>
<circle cx="1022.0" cy="447.1" r="4.6"/>
<circle cx="1013.9" cy="327.9" r="4.6"/>
<circle cx="1040.7" cy="369.7" r="4.6"/>
<circle cx="1027.5" cy="470.0" r="4.6"/>
<circle cx="1042.2" cy="345.1" r="4.6"/>
<circle cx="1035.3" cy="462.6" r="4.6"/>
<circle cx="1032.2" cy="411.2" r="4.6"/>
<circle cx="1027.9" cy="379.7" r="4.6"/>
<circle cx="1031.0" cy="398.8" r="4.6"/>
<circle cx="1025.3" cy="411.2" r="4.6"/>
<circle cx="1038.4" cy="417.2" r="4.6"/>
<circle cx="1005.2" cy="357.9" r="4.6"/>
<circle cx="1032.3" cy="454.8" r="4.6"/>
<circle cx="1009.6" cy="444.1" r="4.6"/>
<circle cx="1035.4" cy="448.5" r="4.6"/>
<circle cx="1021.2" cy="471.6" r="4.6"/>
<circle cx="1030.9" cy="397.3" r="4.6"/>
<circle cx="1039.1" cy="380.4" r="4.6"/>
<circle cx="1031.2" cy="472.4" r="4.6"/>
<circle cx="1029.1" cy="367.5" r="4.6"/>
<circle cx="1029.2" cy="444.8" r="4.6"/>
<circle cx="1035.6" cy="356.9" r="4.6"/>
<circle cx="1028.8" cy="347.8" r="4.6"/>
<circle cx="1040.5" cy="445.4" r="4.6"/>
<circle cx="1027.2" cy="407.8" r="4.6"/>
<circle cx="1029.1" cy="379.7" r="4.6"/>
<circle cx="1035.0" cy="382.5" r="4.6"/>
<circle cx="1039.5" cy="450.1" r="4.6"/>
<circle cx="1032.7" cy="460.2" r="4.6"/>
<circle cx="1040.4" cy="348.6" r="4.6"/>
<circle cx="1030.8" cy="323.6" r="4.6"/>
<circle cx="1037.6" cy="424.3" r="4.6"/>
<circle cx="1034.7" cy="430.9" r="4.6"/>
<circle cx="1035.6" cy="451.5" r="4.6"/>
<circle cx="1030.2" cy="451.6" r="4.6"/>
<circle cx="1029.8" cy="451.8" r="4.6"/>
<circle cx="1034.4" cy="446.8" r="4.6"/>
<circle cx="1029.6" cy="433.6" r="4.6"/>
<circle cx="1013.0" cy="405.8" r="4.6"/>
<circle cx="1023.8" cy="351.3" r="4.6"/>
<circle cx="1036.9" cy="354.4" r="4.6"/>
<circle cx="1024.9" cy="390.4" r="4.6"/>
<circle cx="1023.5" cy="359.7" r="4.6"/>
<circle cx="1029.7" cy="435.0" r="4.6"/>
<circle cx="1042.5" cy="376.9" r="4.6"/>
<circle cx="1019.7" cy="352.0" r="4.6"/>
<circle cx="1028.4" cy="457.6" r="4.6"/>
<circle cx="1028.8" cy="404.8" r="4.6"/>
<circle cx="1014.0" cy="469.2" r="4.6"/>
<circle cx="1030.9" cy="379.6" r="4.6"/>
<circle cx="1024.6" cy="367.7" r="4.6"/>
<circle cx="1033.9" cy="380.4" r="4.6"/>
<circle cx="1037.5" cy="454.2" r="4.6"/>
<circle cx="1020.4" cy="452.5" r="4.6"/>
<circle cx="1028.1" cy="335.4" r="4.6"/>
<circle cx="1036.9" cy="398.1" r="4.6"/>
<circle cx="1029.6" cy="365.5" r="4.6"/>
<circle cx="1037.1" cy="354.2" r="4.6"/>
<circle cx="1023.8" cy="433.4" r="4.6"/>
<circle cx="1012.4" cy="363.2" r="4.6"/>
<circle cx="1021.8" cy="442.0" r="4.6"/>
<circle cx="1037.2" cy="459.2" r="4.6"/>
<circle cx="1036.1" cy="362.2" r="4.6"/>
<circle cx="1038.3" cy="418.7" r="4.6"/>
<circle cx="1032.6" cy="424.2" r="4.6"/>
<circle cx="1028.9" cy="423.5" r="4.6"/>
<circle cx="1042.7" cy="429.9" r="4.6"/>
<circle cx="1010.1" cy="374.3" r="4.6"/>
<circle cx="1035.2" cy="460.5" r="4.6"/>
<circle cx="1019.4" cy="336.4" r="4.6"/>
<circle cx="1028.6" cy="432.0" r="4.6"/>
<circle cx="1033.2" cy="324.5" r="4.6"/>
<circle cx="1040.5" cy="349.7" r="4.6"/>
<circle cx="1027.3" cy="465.2" r="4.6"/>
<circle cx="1033.9" cy="324.3" r="4.6"/>
<circle cx="1020.5" cy="346.7" r="4.6"/>
<circle cx="1018.6" cy="452.3" r="4.6"/>
<circle cx="1031.5" cy="358.8" r="4.6"/>
<circle cx="1032.7" cy="422.3" r="4.6"/>
<circle cx="1010.8" cy="373.8" r="4.6"/>
<circle cx="1042.8" cy="442.2" r="4.6"/>
<circle cx="1010.9" cy="363.8" r="4.6"/>
<circle cx="1034.1" cy="415.2" r="4.6"/>
<circle cx="1039.3" cy="449.4" r="4.6"/>
<circle cx="1040.0" cy="335.8" r="4.6"/>
<circle cx="1031.7" cy="464.3" r="4.6"/>
<circle cx="1020.6" cy="437.9" r="4.6"/>
<circle cx="1029.5" cy="381.0" r="4.6"/>
<circle cx="1011.1" cy="476.8" r="4.6"/>
<circle cx="1008.3" cy="363.0" r="4.6"/>
<circle cx="1021.0" cy="385.8" r="4.6"/>
<circle cx="1033.0" cy="466.8" r="4.6"/>
<circle cx="1017.0" cy="450.8" r="4.6"/>
<circle cx="1029.5" cy="447.6" r="4.6"/>
<circle cx="1037.3" cy="326.7" r="4.6"/>
<circle cx="1026.0" cy="399.9" r="4.6"/>
<circle cx="1023.0" cy="466.5" r="4.6"/>
<circle cx="1022.3" cy="325.0" r="4.6"/>
<circle cx="1013.6" cy="456.8" r="4.6"/>
<circle cx="1000.0" cy="359.8" r="4.6"/>
<circle cx="1030.1" cy="420.0" r="4.6"/>
<circle cx="1043.0" cy="405.0" r="4.6"/>
<circle cx="1037.1" cy="375.3" r="4.6"/>
<circle cx="1037.0" cy="455.2" r="4.6"/>
<circle cx="1025.6" cy="367.7" r="4.6"/>
<circle cx="1022.8" cy="425.3" r="4.6"/>
<circle cx="1041.9" cy="356.1" r="4.6"/>
<circle cx="1022.6" cy="389.2" r="4.6"/>
<circle cx="1036.8" cy="443.8" r="4.6"/>
<circle cx="1036.0" cy="365.9" r="4.6"/>
<circle cx="1036.8" cy="408.1" r="4.6"/>
<circle cx="1034.4" cy="371.4" r="4.6"/>
<circle cx="1023.4" cy="439.7" r="4.6"/>
<circle cx="1021.0" cy="449.2" r="4.6"/>
<circle cx="1014.9" cy="413.8" r="4.6"/>
<circle cx="1036.0" cy="451.0" r="4.6"/>
<circle cx="1039.1" cy="336.3" r="4.6"/>
<circle cx="1027.4" cy="351.0" r="4.6"/>
<circle cx="1037.9" cy="447.8" r="4.6"/>
<circle cx="1037.5" cy="349.5" r="4.6"/>
<circle cx="1025.3" cy="336.1" r="4.6"/>
<circle cx="1027.2" cy="369.9" r="4.6"/>
<circle cx="1039.8" cy="344.9" r="4.6"/>
<circle cx="1041.9" cy="472.7" r="4.6"/>
<circle cx="1043.0" cy="476.7" r="4.6"/>
<circle cx="1035.9" cy="432.7" r="4.6"/>
<circle cx="1035.5" cy="474.8" r="4.6"/>
<circle cx="1039.8" cy="396.2" r="4.6"/>
<circle cx="1038.6" cy="454.2" r="4.6"/>
<circle cx="1004.9" cy="404.9" r="4.6"/>
<circle cx="1041.0" cy="421.1" r="4.6"/>
<circle cx="1020.3" cy="418.4" r="4.6"/>
<circle cx="1033.2" cy="358.2" r="4.6"/>
<circle cx="1033.7" cy="477.4" r="4.6"/>
<circle cx="1038.0" cy="322.4" r="4.6"/>
<circle cx="1010.9" cy="365.4" r="4.6"/>
<circle cx="1021.7" cy="347.7" r="4.6"/>
<circle cx="1017.9" cy="466.3" r="4.6"/>
<circle cx="1017.0" cy="443.6" r="4.6"/>
<circle cx="1042.3" cy="450.9" r="4.6"/>
<circle cx="1027.9" cy="347.5" r="4.6"/>
<circle cx="1036.0" cy="450.1" r="4.6"/>
<circle cx="1028.3" cy="406.2" r="4.6"/>
<circle cx="1019.5" cy="426.6" r="4.6"/>
<circle cx="1021.7" cy="356.3" r="4.6"/>
<circle cx="1037.4" cy="418.5" r="4.6"/>
<circle cx="1032.8" cy="449.2" r="4.6"/>
<circle cx="1007.5" cy="469.2" r="4.6"/>
<circle cx="1042.3" cy="431.0" r="4.6"/>
<circle cx="1036.1" cy="343.2" r="4.6"/>
<circle cx="1021.7" cy="330.8" r="4.6"/>
<circle cx="1033.5" cy="428.1" r="4.6"/>
<circle cx="1027.2" cy="473.2" r="4.6"/>
<circle cx="1040.4" cy="468.3" r="4.6"/>
<circle cx="1033.1" cy="388.3" r="4.6"/>
<circle cx="1017.6" cy="318.4" r="4.6"/>
<circle cx="1024.6" cy="452.5" r="4.6"/>
<circle cx="1019.4" cy="386.1" r="4.6"/>
<circle cx="1018.5" cy="465.8" r="4.6"/>
<circle cx="1029.4" cy="400.3" r="4.6"/>
<circle cx="1035.7" cy="388.2" r="4.6"/>
<circle cx="1026.1" cy="424.6" r="4.6"/>
<circle cx="1010.3" cy="344.3" r="4.6"/>
<circle cx="1025.4" cy="465.7" r="4.6"/>
<circle cx="1036.5" cy="408.1" r="4.6"/>
<circle cx="1033.9" cy="331.6" r="4.6"/>
<circle cx="999.1" cy="369.8" r="4.6"/>
<circle cx="1031.9" cy="463.4" r="4.6"/>
<circle cx="1008.6" cy="406.2" r="4.6"/>
<circle cx="1020.4" cy="471.9" r="4.6"/>
<circle cx="1021.8" cy="327.6" r="4.6"/>
<circle cx="1032.0" cy="426.2" r="4.6"/>
<circle cx="1034.0" cy="409.4" r="4.6"/>
<circle cx="1037.3" cy="434.2" r="4.6"/>
<circle cx="1038.2" cy="421.6" r="4.6"/>
<circle cx="1028.1" cy="459.6" r="4.6"/>
<circle cx="1033.4" cy="322.5" r="4.6"/>
<circle cx="1019.3" cy="389.6" r="4.6"/>
<circle cx="1030.3" cy="427.4" r="4.6"/>
<circle cx="1027.6" cy="377.5" r="4.6"/>
<circle cx="1034.4" cy="402.8" r="4.6"/>
<circle cx="1036.3" cy="408.4" r="4.6"/>
<circle cx="1037.9" cy="346.9" r="4.6"/>
<circle cx="1029.3" cy="439.2" r="4.6"/>
<circle cx="1034.6" cy="336.0" r="4.6"/>
<circle cx="1033.1" cy="333.2" r="4.6"/>
<circle cx="1042.8" cy="402.9" r="4.6"/>
<circle cx="1023.3" cy="406.6" r="4.6"/>
<circle cx="1021.1" cy="470.3" r="4.6"/>
<circle cx="1020.4" cy="336.1" r="4.6"/>
<circle cx="1041.1" cy="330.8" r="4.6"/>
<circle cx="1026.6" cy="383.3" r="4.6"/>
<circle cx="1034.9" cy="456.2" r="4.6"/>
<circle cx="1034.6" cy="417.8" r="4.6"/>
<circle cx="1003.9" cy="439.1" r="4.6"/>
<circle cx="1008.7" cy="433.5" r="4.6"/>
<circle cx="1034.8" cy="334.3" r="4.6"/>
<circle cx="1028.2" cy="345.4" r="4.6"/>
<circle cx="1037.6" cy="428.1" r="4.6"/>
<circle cx="1023.8" cy="442.0" r="4.6"/>
<circle cx="1020.7" cy="327.2" r="4.6"/>
<circle cx="1040.9" cy="355.9" r="4.6"/>
<circle cx="1040.9" cy="413.1" r="4.6"/>
<circle cx="1029.0" cy="470.2" r="4.6"/>
<circle cx="1011.2" cy="431.2" r="4.6"/>
<circle cx="1027.0" cy="417.4" r="4.6"/>
<circle cx="1008.0" cy="457.5" r="4.6"/>
<circle cx="1028.4" cy="457.3" r="4.6"/>
</g>
<g fill="#E3181E">
<circle cx="1276.5" cy="76.6" r="4.6"/>
<circle cx="1083.4" cy="92.6" r="4.6"/>
<circle cx="1160.6" cy="95.1" r="4.6"/>
<circle cx="1157.0" cy="104.8" r="4.6"/>
<circle cx="1106.1" cy="114.5" r="4.6"/>
<circle cx="1063.0" cy="133.0" r="4.6"/>
<circle cx="1130.2" cy="137.7" r="4.6"/>
<circle cx="1155.6" cy="136.9" r="4.6"/>
<circle cx="1102.5" cy="152.1" r="4.6"/>
<circle cx="1133.5" cy="156.8" r="4.6"/>
<circle cx="1089.8" cy="162.4" r="4.6"/>
<circle cx="1070.7" cy="170.1" r="4.6"/>
<circle cx="1170.3" cy="186.1" r="4.6"/>
<circle cx="1079.8" cy="193.9" r="4.6"/>
<circle cx="1064.1" cy="207.7" r="4.6"/>
<circle cx="1120.5" cy="206.1" r="4.6"/>
<circle cx="1106.1" cy="215.7" r="4.6"/>
<circle cx="1067.7" cy="220.2" r="4.6"/>
<circle cx="1065.4" cy="228.2" r="4.6"/>
<circle cx="1057.4" cy="237.0" r="4.6"/>
<circle cx="1093.7" cy="234.3" r="4.6"/>
<circle cx="1125.8" cy="234.6" r="4.6"/>
<circle cx="1070.4" cy="244.0" r="4.6"/>
<circle cx="1074.6" cy="242.6" r="4.6"/>
<circle cx="1073.2" cy="253.1" r="4.6"/>
<circle cx="1089.2" cy="255.3" r="4.6"/>
<circle cx="1148.4" cy="249.5" r="4.6"/>
<circle cx="1119.4" cy="261.7" r="4.6"/>
<circle cx="1066.3" cy="259.7" r="4.6"/>
<circle cx="1068.5" cy="273.8" r="4.6"/>
<circle cx="1062.1" cy="282.7" r="4.6"/>
<circle cx="1079.6" cy="287.9" r="4.6"/>
<circle cx="1060.7" cy="296.5" r="4.6"/>
<circle cx="1078.7" cy="297.9" r="4.6"/>
<circle cx="1118.8" cy="293.7" r="4.6"/>
<circle cx="1133.5" cy="293.7" r="4.6"/>
<circle cx="1124.9" cy="302.3" r="4.6"/>
<circle cx="1064.9" cy="311.7" r="4.6"/>
<circle cx="1075.4" cy="307.6" r="4.6"/>
<circle cx="1105.8" cy="315.6" r="4.6"/>
<circle cx="1140.1" cy="312.6" r="4.6"/>
<circle cx="1153.4" cy="319.2" r="4.6"/>
<circle cx="1159.5" cy="324.7" r="4.6"/>
<circle cx="1094.5" cy="323.3" r="4.6"/>
<circle cx="1092.0" cy="331.6" r="4.6"/>
<circle cx="1057.2" cy="320.0" r="4.6"/>
<circle cx="1131.3" cy="340.8" r="4.6"/>
<circle cx="1129.9" cy="342.2" r="4.6"/>
<circle cx="1089.2" cy="357.9" r="4.6"/>
<circle cx="1077.3" cy="349.9" r="4.6"/>
<circle cx="1127.4" cy="383.1" r="4.6"/>
<circle cx="1083.7" cy="390.6" r="4.6"/>
<circle cx="1083.7" cy="397.5" r="4.6"/>
<circle cx="1096.7" cy="434.0" r="4.6"/>
<circle cx="1084.3" cy="437.6" r="4.6"/>
<circle cx="1080.1" cy="449.2" r="4.6"/>
<circle cx="1084.3" cy="465.8" r="4.6"/>
<circle cx="1074.6" cy="468.0" r="4.6"/>
<circle cx="1053.8" cy="276.7" r="4.6"/>
<circle cx="1063.5" cy="440.2" r="4.6"/>
<circle cx="1056.1" cy="426.9" r="4.6"/>
<circle cx="1058.5" cy="377.7" r="4.6"/>
<circle cx="1070.2" cy="436.0" r="4.6"/>
<circle cx="1059.1" cy="325.0" r="4.6"/>
<circle cx="1064.7" cy="414.6" r="4.6"/>
<circle cx="1061.6" cy="309.8" r="4.6"/>
<circle cx="1068.2" cy="336.1" r="4.6"/>
<circle cx="1061.0" cy="358.7" r="4.6"/>
<circle cx="1073.3" cy="348.9" r="4.6"/>
<circle cx="1060.4" cy="411.0" r="4.6"/>
<circle cx="1058.8" cy="336.2" r="4.6"/>
<circle cx="1054.2" cy="446.1" r="4.6"/>
<circle cx="1062.1" cy="277.6" r="4.6"/>
<circle cx="1056.5" cy="427.9" r="4.6"/>
<circle cx="1067.3" cy="378.9" r="4.6"/>
<circle cx="1071.2" cy="404.1" r="4.6"/>
<circle cx="1063.1" cy="428.3" r="4.6"/>
<circle cx="1078.5" cy="320.2" r="4.6"/>
<circle cx="1061.1" cy="372.8" r="4.6"/>
<circle cx="1064.0" cy="313.4" r="4.6"/>
<circle cx="1060.3" cy="446.1" r="4.6"/>
<circle cx="1055.0" cy="448.9" r="4.6"/>
<circle cx="1063.3" cy="426.7" r="4.6"/>
<circle cx="1061.3" cy="343.3" r="4.6"/>
<circle cx="1071.0" cy="453.2" r="4.6"/>
<circle cx="1067.4" cy="415.7" r="4.6"/>
<circle cx="1057.2" cy="271.9" r="4.6"/>
<circle cx="1060.2" cy="461.0" r="4.6"/>
<circle cx="1060.0" cy="412.3" r="4.6"/>
<circle cx="1055.3" cy="375.8" r="4.6"/>
<circle cx="1063.1" cy="392.8" r="4.6"/>
<circle cx="1058.6" cy="374.6" r="4.6"/>
<circle cx="1062.2" cy="319.0" r="4.6"/>
<circle cx="1058.2" cy="269.1" r="4.6"/>
<circle cx="1056.8" cy="391.5" r="4.6"/>
<circle cx="1053.8" cy="341.3" r="4.6"/>
<circle cx="1054.7" cy="425.4" r="4.6"/>
<circle cx="1062.2" cy="398.0" r="4.6"/>
<circle cx="1065.7" cy="359.9" r="4.6"/>
<circle cx="1059.2" cy="471.1" r="4.6"/>
<circle cx="1067.3" cy="319.6" r="4.6"/>
<circle cx="1056.5" cy="441.3" r="4.6"/>
<circle cx="1055.9" cy="457.6" r="4.6"/>
<circle cx="1068.9" cy="419.5" r="4.6"/>
<circle cx="1057.4" cy="376.1" r="4.6"/>
<circle cx="1072.7" cy="457.7" r="4.6"/>
<circle cx="1057.4" cy="468.2" r="4.6"/>
<circle cx="1062.0" cy="307.7" r="4.6"/>
<circle cx="1069.1" cy="436.3" r="4.6"/>
<circle cx="1054.4" cy="374.1" r="4.6"/>
<circle cx="1056.7" cy="406.1" r="4.6"/>
<circle cx="1055.7" cy="372.0" r="4.6"/>
<circle cx="1066.1" cy="369.7" r="4.6"/>
<circle cx="1054.4" cy="376.8" r="4.6"/>
<circle cx="1054.5" cy="280.7" r="4.6"/>
<circle cx="1063.6" cy="339.7" r="4.6"/>
<circle cx="1061.8" cy="319.2" r="4.6"/>
<circle cx="1062.3" cy="389.3" r="4.6"/>
<circle cx="1055.7" cy="409.0" r="4.6"/>
<circle cx="1059.8" cy="328.6" r="4.6"/>
<circle cx="1059.9" cy="366.2" r="4.6"/>
<circle cx="1070.0" cy="296.7" r="4.6"/>
<circle cx="1066.8" cy="468.0" r="4.6"/>
<circle cx="1074.4" cy="411.3" r="4.6"/>
<circle cx="1059.8" cy="330.8" r="4.6"/>
<circle cx="1066.6" cy="476.0" r="4.6"/>
<circle cx="1055.3" cy="375.1" r="4.6"/>
<circle cx="1065.0" cy="456.9" r="4.6"/>
<circle cx="1076.9" cy="271.5" r="4.6"/>
<circle cx="1055.8" cy="362.1" r="4.6"/>
<circle cx="1060.0" cy="359.2" r="4.6"/>
<circle cx="1054.5" cy="360.9" r="4.6"/>
<circle cx="1055.7" cy="430.7" r="4.6"/>
<circle cx="1064.4" cy="350.1" r="4.6"/>
<circle cx="1063.9" cy="414.5" r="4.6"/>
<circle cx="1065.5" cy="278.2" r="4.6"/>
<circle cx="1068.0" cy="435.4" r="4.6"/>
<circle cx="1056.9" cy="330.7" r="4.6"/>
<circle cx="1060.6" cy="447.5" r="4.6"/>
<circle cx="1060.6" cy="339.9" r="4.6"/>
<circle cx="1075.3" cy="348.1" r="4.6"/>
<circle cx="1058.7" cy="420.4" r="4.6"/>
<circle cx="1055.8" cy="316.0" r="4.6"/>
<circle cx="1063.0" cy="437.9" r="4.6"/>
<circle cx="1067.2" cy="421.8" r="4.6"/>
<circle cx="1062.8" cy="372.0" r="4.6"/>
<circle cx="1056.4" cy="327.2" r="4.6"/>
<circle cx="1055.2" cy="418.2" r="4.6"/>
<circle cx="1068.3" cy="371.5" r="4.6"/>
<circle cx="1054.0" cy="281.4" r="4.6"/>
<circle cx="1078.5" cy="392.1" r="4.6"/>
<circle cx="1055.6" cy="408.3" r="4.6"/>
<circle cx="1067.7" cy="476.0" r="4.6"/>
<circle cx="1058.7" cy="433.9" r="4.6"/>
<circle cx="1058.8" cy="370.7" r="4.6"/>
<circle cx="1057.1" cy="340.8" r="4.6"/>
<circle cx="1070.5" cy="307.9" r="4.6"/>
<circle cx="1064.3" cy="385.7" r="4.6"/>
<circle cx="1065.4" cy="404.2" r="4.6"/>
<circle cx="1060.9" cy="423.2" r="4.6"/>
<circle cx="1062.3" cy="414.3" r="4.6"/>
<circle cx="1069.3" cy="359.3" r="4.6"/>
<circle cx="1055.1" cy="431.8" r="4.6"/>
<circle cx="1072.5" cy="284.1" r="4.6"/>
<circle cx="1065.5" cy="441.6" r="4.6"/>
<circle cx="1055.2" cy="362.5" r="4.6"/>
<circle cx="1059.0" cy="401.7" r="4.6"/>
<circle cx="1055.6" cy="319.4" r="4.6"/>
<circle cx="1064.1" cy="394.1" r="4.6"/>
<circle cx="1069.2" cy="376.0" r="4.6"/>
<circle cx="1056.0" cy="319.5" r="4.6"/>
<circle cx="1071.8" cy="332.4" r="4.6"/>
<circle cx="1056.1" cy="322.5" r="4.6"/>
<circle cx="1056.4" cy="398.3" r="4.6"/>
<circle cx="1064.3" cy="406.8" r="4.6"/>
<circle cx="1077.2" cy="376.5" r="4.6"/>
<circle cx="1061.4" cy="341.9" r="4.6"/>
<circle cx="1069.7" cy="315.9" r="4.6"/>
<circle cx="1072.3" cy="343.9" r="4.6"/>
<circle cx="1057.0" cy="356.8" r="4.6"/>
<circle cx="1069.1" cy="475.2" r="4.6"/>
<circle cx="1053.6" cy="373.1" r="4.6"/>
<circle cx="1062.9" cy="446.1" r="4.6"/>
<circle cx="1055.9" cy="462.6" r="4.6"/>
<circle cx="1053.9" cy="273.6" r="4.6"/>
<circle cx="1057.5" cy="421.3" r="4.6"/>
<circle cx="1056.0" cy="382.3" r="4.6"/>
<circle cx="1056.4" cy="408.3" r="4.6"/>
<circle cx="1076.6" cy="383.6" r="4.6"/>
<circle cx="1066.4" cy="418.3" r="4.6"/>
<circle cx="1053.6" cy="353.9" r="4.6"/>
<circle cx="1062.1" cy="290.6" r="4.6"/>
<circle cx="1058.9" cy="355.0" r="4.6"/>
<circle cx="1071.3" cy="420.8" r="4.6"/>
<circle cx="1061.2" cy="365.8" r="4.6"/>
<circle cx="1053.8" cy="409.1" r="4.6"/>
<circle cx="1068.0" cy="343.1" r="4.6"/>
<circle cx="1070.3" cy="360.8" r="4.6"/>
<circle cx="1057.5" cy="307.1" r="4.6"/>
<circle cx="1061.5" cy="371.0" r="4.6"/>
<circle cx="1058.6" cy="395.7" r="4.6"/>
<circle cx="1057.6" cy="427.2" r="4.6"/>
<circle cx="1067.3" cy="413.6" r="4.6"/>
<circle cx="1057.7" cy="459.3" r="4.6"/>
<circle cx="1061.2" cy="351.6" r="4.6"/>
<circle cx="1060.4" cy="308.6" r="4.6"/>
<circle cx="1062.6" cy="456.1" r="4.6"/>
<circle cx="1073.5" cy="477.2" r="4.6"/>
<circle cx="1058.8" cy="365.6" r="4.6"/>
<circle cx="1054.3" cy="473.9" r="4.6"/>
<circle cx="1058.8" cy="319.5" r="4.6"/>
<circle cx="1056.8" cy="435.8" r="4.6"/>
<circle cx="1061.6" cy="273.1" r="4.6"/>
<circle cx="1068.0" cy="332.4" r="4.6"/>
<circle cx="1068.7" cy="372.3" r="4.6"/>
<circle cx="1062.1" cy="459.1" r="4.6"/>
<circle cx="1061.4" cy="474.7" r="4.6"/>
<circle cx="1055.2" cy="444.7" r="4.6"/>
<circle cx="1066.2" cy="428.3" r="4.6"/>
<circle cx="1056.6" cy="280.0" r="4.6"/>
<circle cx="1055.2" cy="386.9" r="4.6"/>
<circle cx="1054.9" cy="476.5" r="4.6"/>
<circle cx="1057.5" cy="368.6" r="4.6"/>
<circle cx="1057.4" cy="396.0" r="4.6"/>
<circle cx="1059.7" cy="339.7" r="4.6"/>
<circle cx="1056.5" cy="427.7" r="4.6"/>
<circle cx="1054.5" cy="275.7" r="4.6"/>
<circle cx="1066.4" cy="336.0" r="4.6"/>
<circle cx="1078.1" cy="374.6" r="4.6"/>
<circle cx="1054.1" cy="373.9" r="4.6"/>
<circle cx="1075.8" cy="352.4" r="4.6"/>
<circle cx="1058.1" cy="435.0" r="4.6"/>
<circle cx="1057.3" cy="361.7" r="4.6"/>
<circle cx="1061.2" cy="271.6" r="4.6"/>
<circle cx="1064.7" cy="324.9" r="4.6"/>
<circle cx="1054.1" cy="407.1" r="4.6"/>
<circle cx="1070.3" cy="376.0" r="4.6"/>
<circle cx="1054.6" cy="422.5" r="4.6"/>
<circle cx="1069.6" cy="405.0" r="4.6"/>
<circle cx="1058.6" cy="475.2" r="4.6"/>
<circle cx="1055.7" cy="313.5" r="4.6"/>
<circle cx="1064.4" cy="368.9" r="4.6"/>
<circle cx="1064.2" cy="385.1" r="4.6"/>
<circle cx="1055.3" cy="379.7" r="4.6"/>
<circle cx="1078.0" cy="383.6" r="4.6"/>
<circle cx="1084.3" cy="318.8" r="4.6"/>
<circle cx="1061.0" cy="415.3" r="4.6"/>
<circle cx="1057.3" cy="299.8" r="4.6"/>
<circle cx="1053.9" cy="378.3" r="4.6"/>
<circle cx="1060.8" cy="336.6" r="4.6"/>
<circle cx="1058.6" cy="452.9" r="4.6"/>
<circle cx="1077.0" cy="325.9" r="4.6"/>
<circle cx="1060.6" cy="429.1" r="4.6"/>
<circle cx="1067.7" cy="405.8" r="4.6"/>
<circle cx="1054.0" cy="284.4" r="4.6"/>
<circle cx="1053.6" cy="437.4" r="4.6"/>
<circle cx="1068.2" cy="454.6" r="4.6"/>
<circle cx="1054.4" cy="477.2" r="4.6"/>
<circle cx="1066.0" cy="355.5" r="4.6"/>
<circle cx="1066.7" cy="378.6" r="4.6"/>
<circle cx="1064.0" cy="431.9" r="4.6"/>
<circle cx="1061.8" cy="299.9" r="4.6"/>
<circle cx="1060.3" cy="426.4" r="4.6"/>
<circle cx="1067.4" cy="404.9" r="4.6"/>
<circle cx="1060.1" cy="353.7" r="4.6"/>
<circle cx="1059.1" cy="463.4" r="4.6"/>
<circle cx="1055.9" cy="393.7" r="4.6"/>
<circle cx="1066.7" cy="394.3" r="4.6"/>
<circle cx="1069.3" cy="279.5" r="4.6"/>
<circle cx="1073.1" cy="402.6" r="4.6"/>
<circle cx="1073.4" cy="401.8" r="4.6"/>
<circle cx="1057.0" cy="356.2" r="4.6"/>
<circle cx="1058.8" cy="345.6" r="4.6"/>
<circle cx="1064.5" cy="420.5" r="4.6"/>
<circle cx="1070.9" cy="450.4" r="4.6"/>
<circle cx="1067.2" cy="270.2" r="4.6"/>
<circle cx="1063.5" cy="379.0" r="4.6"/>
<circle cx="1071.2" cy="337.7" r="4.6"/>
<circle cx="1053.5" cy="342.6" r="4.6"/>
<circle cx="1058.6" cy="375.1" r="4.6"/>
<circle cx="1065.5" cy="446.5" r="4.6"/>
<circle cx="1055.1" cy="332.1" r="4.6"/>
<circle cx="1070.4" cy="288.6" r="4.6"/>
<circle cx="1053.8" cy="389.9" r="4.6"/>
<circle cx="1059.0" cy="394.5" r="4.6"/>
<circle cx="1071.2" cy="342.0" r="4.6"/>
<circle cx="1062.4" cy="426.8" r="4.6"/>
<circle cx="1063.4" cy="356.0" r="4.6"/>
<circle cx="1059.3" cy="377.3" r="4.6"/>
<circle cx="1062.6" cy="268.9" r="4.6"/>
<circle cx="1056.9" cy="350.1" r="4.6"/>
<circle cx="1055.1" cy="346.5" r="4.6"/>
<circle cx="1055.0" cy="432.9" r="4.6"/>
<circle cx="1063.1" cy="356.7" r="4.6"/>
<circle cx="1066.6" cy="451.5" r="4.6"/>
<circle cx="1062.0" cy="455.4" r="4.6"/>
<circle cx="1070.8" cy="278.5" r="4.6"/>
<circle cx="1062.6" cy="416.9" r="4.6"/>
<circle cx="1064.9" cy="377.5" r="4.6"/>
<circle cx="1056.7" cy="376.7" r="4.6"/>
<circle cx="1056.7" cy="432.0" r="4.6"/>
<circle cx="1064.3" cy="421.7" r="4.6"/>
<circle cx="1060.0" cy="447.7" r="4.6"/>
<circle cx="1062.2" cy="298.1" r="4.6"/>
<circle cx="1064.0" cy="466.0" r="4.6"/>
<circle cx="1080.9" cy="431.9" r="4.6"/>
<circle cx="1058.5" cy="377.6" r="4.6"/>
<circle cx="1062.0" cy="329.3" r="4.6"/>
<circle cx="1063.3" cy="439.0" r="4.6"/>
<circle cx="1062.7" cy="397.5" r="4.6"/>
<circle cx="1053.6" cy="314.9" r="4.6"/>
<circle cx="1056.0" cy="412.8" r="4.6"/>
<circle cx="1074.0" cy="392.0" r="4.6"/>
<circle cx="1058.5" cy="384.4" r="4.6"/>
<circle cx="1062.6" cy="393.8" r="4.6"/>
<circle cx="1061.0" cy="396.6" r="4.6"/>
<circle cx="1060.9" cy="399.9" r="4.6"/>
<circle cx="1068.1" cy="306.5" r="4.6"/>
<circle cx="1069.6" cy="382.3" r="4.6"/>
<circle cx="1057.7" cy="406.6" r="4.6"/>
<circle cx="1054.2" cy="441.1" r="4.6"/>
<circle cx="1059.0" cy="353.3" r="4.6"/>
<circle cx="1055.6" cy="330.3" r="4.6"/>
<circle cx="1058.1" cy="332.1" r="4.6"/>
<circle cx="1056.9" cy="307.2" r="4.6"/>
<circle cx="1055.0" cy="427.0" r="4.6"/>
<circle cx="1057.2" cy="431.8" r="4.6"/>
<circle cx="1053.9" cy="428.6" r="4.6"/>
<circle cx="1087.1" cy="384.9" r="4.6"/>
<circle cx="1073.1" cy="448.7" r="4.6"/>
<circle cx="1059.6" cy="457.5" r="4.6"/>
<circle cx="1061.4" cy="294.9" r="4.6"/>
<circle cx="1062.3" cy="319.0" r="4.6"/>
<circle cx="1054.1" cy="360.0" r="4.6"/>
<circle cx="1054.2" cy="368.1" r="4.6"/>
<circle cx="1075.3" cy="406.9" r="4.6"/>
<circle cx="1056.6" cy="399.8" r="4.6"/>
<circle cx="1055.2" cy="366.7" r="4.6"/>
<circle cx="1060.5" cy="313.1" r="4.6"/>
<circle cx="1074.0" cy="359.1" r="4.6"/>
<circle cx="1066.4" cy="350.3" r="4.6"/>
<circle cx="1057.9" cy="377.8" r="4.6"/>
<circle cx="1068.0" cy="392.3" r="4.6"/>
<circle cx="1054.5" cy="376.5" r="4.6"/>
<circle cx="1061.1" cy="446.2" r="4.6"/>
<circle cx="1077.0" cy="296.9" r="4.6"/>
<circle cx="1058.8" cy="326.2" r="4.6"/>
<circle cx="1066.0" cy="383.4" r="4.6"/>
<circle cx="1057.4" cy="408.4" r="4.6"/>
<circle cx="1061.4" cy="445.4" r="4.6"/>
<circle cx="1058.4" cy="364.6" r="4.6"/>
<circle cx="1072.7" cy="412.7" r="4.6"/>
<circle cx="1064.4" cy="291.6" r="4.6"/>
<circle cx="1058.2" cy="458.5" r="4.6"/>
<circle cx="1067.9" cy="327.2" r="4.6"/>
<circle cx="1059.9" cy="325.8" r="4.6"/>
<circle cx="1066.8" cy="456.0" r="4.6"/>
<circle cx="1060.0" cy="346.8" r="4.6"/>
<circle cx="1071.8" cy="465.6" r="4.6"/>
<circle cx="1060.9" cy="293.9" r="4.6"/>
<circle cx="1057.7" cy="425.8" r="4.6"/>
<circle cx="1061.7" cy="351.8" r="4.6"/>
<circle cx="1068.5" cy="452.1" r="4.6"/>
<circle cx="1073.0" cy="351.1" r="4.6"/>
<circle cx="1069.4" cy="334.1" r="4.6"/>
<circle cx="1064.4" cy="470.1" r="4.6"/>
<circle cx="1058.1" cy="289.6" r="4.6"/>
<circle cx="1060.6" cy="462.9" r="4.6"/>
<circle cx="1055.6" cy="427.7" r="4.6"/>
<circle cx="1056.6" cy="429.3" r="4.6"/>
<circle cx="1058.2" cy="324.7" r="4.6"/>
<circle cx="1061.4" cy="355.2" r="4.6"/>
<circle cx="1059.4" cy="411.1" r="4.6"/>
<circle cx="1066.3" cy="276.0" r="4.6"/>
<circle cx="1063.0" cy="463.9" r="4.6"/>
<circle cx="1072.3" cy="342.3" r="4.6"/>
<circle cx="1064.4" cy="445.9" r="4.6"/>
<circle cx="1054.9" cy="323.3" r="4.6"/>
<circle cx="1058.5" cy="378.8" r="4.6"/>
<circle cx="1059.6" cy="405.3" r="4.6"/>
<circle cx="1070.8" cy="272.9" r="4.6"/>
<circle cx="1057.4" cy="386.8" r="4.6"/>
<circle cx="1069.0" cy="426.6" r="4.6"/>
<circle cx="1067.1" cy="337.5" r="4.6"/>
<circle cx="1079.5" cy="465.7" r="4.6"/>
<circle cx="1054.1" cy="402.2" r="4.6"/>
<circle cx="1064.1" cy="364.5" r="4.6"/>
<circle cx="1068.5" cy="293.8" r="4.6"/>
</g>
<line x1="1042.7" y1="74.1" x2="1042.7" y2="620.5" stroke="#000" stroke-width="1.6" stroke-dasharray="4 3"/>
<line x1="1055.4" y1="74.1" x2="1055.4" y2="620.5" stroke="#000" stroke-width="1.6" stroke-dasharray="4 3"/>
<line x1="759.2" y1="478.3" x2="1290.5" y2="478.3" stroke="#000" stroke-width="1.6" stroke-dasharray="4 3"/>
<rect x="759.2" y="74.1" width="531.3" height="546.4" fill="none" stroke="#111" stroke-width="2"/>
<line x1="750.3" y1="620.5" x2="759.2" y2="620.5" stroke="#111" stroke-width="2"/>
<text font-size="26.4" text-anchor="end" transform="translate(745.2 628.7) scale(1 1.035)">0</text>
<line x1="750.3" y1="565.9" x2="759.2" y2="565.9" stroke="#111" stroke-width="2"/>
<text font-size="26.4" text-anchor="end" transform="translate(745.2 574.1) scale(1 1.035)">0.5</text>
<line x1="750.3" y1="511.2" x2="759.2" y2="511.2" stroke="#111" stroke-width="2"/>
<text font-size="26.4" text-anchor="end" transform="translate(745.2 519.4) scale(1 1.035)">1</text>
<line x1="750.3" y1="456.6" x2="759.2" y2="456.6" stroke="#111" stroke-width="2"/>
<text font-size="26.4" text-anchor="end" transform="translate(745.2 464.8) scale(1 1.035)">1.5</text>
<line x1="750.3" y1="401.9" x2="759.2" y2="401.9" stroke="#111" stroke-width="2"/>
<text font-size="26.4" text-anchor="end" transform="translate(745.2 410.1) scale(1 1.035)">2</text>
<line x1="750.3" y1="347.3" x2="759.2" y2="347.3" stroke="#111" stroke-width="2"/>
<text font-size="26.4" text-anchor="end" transform="translate(745.2 355.5) scale(1 1.035)">2.5</text>
<line x1="750.3" y1="292.7" x2="759.2" y2="292.7" stroke="#111" stroke-width="2"/>
<text font-size="26.4" text-anchor="end" transform="translate(745.2 300.9) scale(1 1.035)">3</text>
<line x1="750.3" y1="238.0" x2="759.2" y2="238.0" stroke="#111" stroke-width="2"/>
<text font-size="26.4" text-anchor="end" transform="translate(745.2 246.2) scale(1 1.035)">3.5</text>
<line x1="750.3" y1="183.4" x2="759.2" y2="183.4" stroke="#111" stroke-width="2"/>
<text font-size="26.4" text-anchor="end" transform="translate(745.2 191.6) scale(1 1.035)">4</text>
<line x1="750.3" y1="128.7" x2="759.2" y2="128.7" stroke="#111" stroke-width="2"/>
<text font-size="26.4" text-anchor="end" transform="translate(745.2 136.9) scale(1 1.035)">4.5</text>
<line x1="750.3" y1="74.1" x2="759.2" y2="74.1" stroke="#111" stroke-width="2"/>
<text font-size="26.4" text-anchor="end" transform="translate(745.2 82.3) scale(1 1.035)">5</text>
<line x1="759.2" y1="620.5" x2="759.2" y2="628.7" stroke="#111" stroke-width="2"/>
<text font-size="26.4" text-anchor="middle" transform="translate(759.2 652.3) scale(1 1.035)">-12</text>
<line x1="807.5" y1="620.5" x2="807.5" y2="628.7" stroke="#111" stroke-width="2"/>
<text font-size="26.4" text-anchor="middle" transform="translate(807.5 652.3) scale(1 1.035)">-10</text>
<line x1="855.8" y1="620.5" x2="855.8" y2="628.7" stroke="#111" stroke-width="2"/>
<text font-size="26.4" text-anchor="middle" transform="translate(855.8 652.3) scale(1 1.035)">-8</text>
<line x1="904.1" y1="620.5" x2="904.1" y2="628.7" stroke="#111" stroke-width="2"/>
<text font-size="26.4" text-anchor="middle" transform="translate(904.1 652.3) scale(1 1.035)">-6</text>
<line x1="952.4" y1="620.5" x2="952.4" y2="628.7" stroke="#111" stroke-width="2"/>
<text font-size="26.4" text-anchor="middle" transform="translate(952.4 652.3) scale(1 1.035)">-4</text>
<line x1="1000.8" y1="620.5" x2="1000.8" y2="628.7" stroke="#111" stroke-width="2"/>
<text font-size="26.4" text-anchor="middle" transform="translate(1000.8 652.3) scale(1 1.035)">-2</text>
<line x1="1049.1" y1="620.5" x2="1049.1" y2="628.7" stroke="#111" stroke-width="2"/>
<text font-size="26.4" text-anchor="middle" transform="translate(1049.1 652.3) scale(1 1.035)">0</text>
<line x1="1097.4" y1="620.5" x2="1097.4" y2="628.7" stroke="#111" stroke-width="2"/>
<text font-size="26.4" text-anchor="middle" transform="translate(1097.4 652.3) scale(1 1.035)">2</text>
<line x1="1145.7" y1="620.5" x2="1145.7" y2="628.7" stroke="#111" stroke-width="2"/>
<text font-size="26.4" text-anchor="middle" transform="translate(1145.7 652.3) scale(1 1.035)">4</text>
<line x1="1194.0" y1="620.5" x2="1194.0" y2="628.7" stroke="#111" stroke-width="2"/>
<text font-size="26.4" text-anchor="middle" transform="translate(1194.0 652.3) scale(1 1.035)">6</text>
<line x1="1242.3" y1="620.5" x2="1242.3" y2="628.7" stroke="#111" stroke-width="2"/>
<text font-size="26.4" text-anchor="middle" transform="translate(1242.3 652.3) scale(1 1.035)">8</text>
<line x1="1290.6" y1="620.5" x2="1290.6" y2="628.7" stroke="#111" stroke-width="2"/>
<text font-size="26.4" text-anchor="middle" transform="translate(1290.6 652.3) scale(1 1.035)">10</text>
<text font-size="26.3" text-anchor="middle" transform="translate(1024.5 674.2) scale(1 1.035)">Log2FC</text>
<text font-size="26.3" text-anchor="middle" transform="translate(701.5 344) rotate(-90) scale(1 1.035)">-Log10 (<tspan font-style="italic">P</tspan>value)</text>
<text font-size="26.3" transform="translate(769.5 98.2) scale(1 1.035)">Significant</text>
<circle cx="776.4" cy="120.2" r="11.8" fill="#E3181E"/>
<circle cx="776.4" cy="158" r="11.8" fill="#A9A9A9"/>
<circle cx="776.4" cy="195.9" r="11.8" fill="#3D81C4"/>
<text font-size="26.3" transform="translate(793.0 127.2) scale(1 1.035)">Up(263)</text>
<text font-size="26.3" transform="translate(793.0 165.6) scale(1 1.035)">Nosig(1223)</text>
<text font-size="26.3" transform="translate(793.0 203.4) scale(1 1.035)">Down(269)</text>
<text font-size="39.5" font-weight="bold" transform="translate(39.0 710.3) scale(1 1.035)">C</text>
<line x1="49.8" y1="725.5" x2="56.3" y2="725.5" stroke="#888" stroke-width="1"/>
<rect x="139.25" y="838.73" width="36.80" height="305.67" fill="#D94A35" stroke="#D23A26" stroke-width="0.7"/>
<text font-size="26.2" text-anchor="middle" transform="translate(157.7 834.0) scale(1 1.035)">172</text>
<rect x="192.21" y="922.35" width="36.80" height="222.05" fill="#D94A35" stroke="#D23A26" stroke-width="0.7"/>
<text font-size="26.2" text-anchor="middle" transform="translate(210.6 917.6) scale(1 1.035)">125</text>
<rect x="245.17" y="963.27" width="36.80" height="181.13" fill="#D94A35" stroke="#D23A26" stroke-width="0.7"/>
<text font-size="26.2" text-anchor="middle" transform="translate(263.6 958.5) scale(1 1.035)">102</text>
<rect x="298.13" y="989.96" width="36.80" height="154.44" fill="#D94A35" stroke="#D23A26" stroke-width="0.7"/>
<text font-size="26.2" text-anchor="middle" transform="translate(316.5 985.2) scale(1 1.035)">87</text>
<rect x="351.09" y="1039.78" width="36.80" height="104.62" fill="#D94A35" stroke="#D23A26" stroke-width="0.7"/>
<text font-size="26.2" text-anchor="middle" transform="translate(369.5 1035.0) scale(1 1.035)">59</text>
<rect x="404.05" y="1041.56" width="36.80" height="102.84" fill="#D94A35" stroke="#D23A26" stroke-width="0.7"/>
<text font-size="26.2" text-anchor="middle" transform="translate(422.5 1036.8) scale(1 1.035)">58</text>
<rect x="457.01" y="1057.57" width="36.80" height="86.83" fill="#D94A35" stroke="#D23A26" stroke-width="0.7"/>
<text font-size="26.2" text-anchor="middle" transform="translate(475.4 1052.8) scale(1 1.035)">49</text>
<rect x="509.97" y="1086.04" width="36.80" height="58.36" fill="#D94A35" stroke="#D23A26" stroke-width="0.7"/>
<text font-size="26.2" text-anchor="middle" transform="translate(528.4 1081.3) scale(1 1.035)">33</text>
<rect x="562.93" y="1091.37" width="36.80" height="53.03" fill="#D94A35" stroke="#D23A26" stroke-width="0.7"/>
<text font-size="26.2" text-anchor="middle" transform="translate(581.3 1086.6) scale(1 1.035)">30</text>
<rect x="615.89" y="1094.93" width="36.80" height="49.47" fill="#D94A35" stroke="#D23A26" stroke-width="0.7"/>
<text font-size="26.2" text-anchor="middle" transform="translate(634.3 1090.2) scale(1 1.035)">28</text>
<rect x="668.85" y="956.15" width="36.80" height="188.25" fill="#45AFC8" stroke="#36A6C4" stroke-width="0.7"/>
<text font-size="26.2" text-anchor="middle" transform="translate(687.2 951.4) scale(1 1.035)">106</text>
<rect x="721.81" y="794.25" width="36.80" height="350.15" fill="#229A82" stroke="#168F76" stroke-width="0.7"/>
<text font-size="26.2" text-anchor="middle" transform="translate(740.2 789.5) scale(1 1.035)">197</text>
<rect x="774.77" y="956.15" width="36.80" height="188.25" fill="#229A82" stroke="#168F76" stroke-width="0.7"/>
<text font-size="26.2" text-anchor="middle" transform="translate(793.2 951.4) scale(1 1.035)">106</text>
<rect x="827.73" y="977.51" width="36.80" height="166.89" fill="#229A82" stroke="#168F76" stroke-width="0.7"/>
<text font-size="26.2" text-anchor="middle" transform="translate(846.1 972.8) scale(1 1.035)">94</text>
<rect x="880.69" y="1018.43" width="36.80" height="125.97" fill="#229A82" stroke="#168F76" stroke-width="0.7"/>
<text font-size="26.2" text-anchor="middle" transform="translate(899.1 1013.7) scale(1 1.035)">71</text>
<rect x="933.65" y="1027.32" width="36.80" height="117.08" fill="#229A82" stroke="#168F76" stroke-width="0.7"/>
<text font-size="26.2" text-anchor="middle" transform="translate(952.0 1022.6) scale(1 1.035)">66</text>
<rect x="986.61" y="1068.24" width="36.80" height="76.16" fill="#229A82" stroke="#168F76" stroke-width="0.7"/>
<text font-size="26.2" text-anchor="middle" transform="translate(1005.0 1063.5) scale(1 1.035)">43</text>
<rect x="1039.57" y="1070.02" width="36.80" height="74.38" fill="#229A82" stroke="#168F76" stroke-width="0.7"/>
<text font-size="26.2" text-anchor="middle" transform="translate(1058.0 1065.3) scale(1 1.035)">42</text>
<rect x="1092.53" y="1078.92" width="36.80" height="65.48" fill="#229A82" stroke="#168F76" stroke-width="0.7"/>
<text font-size="26.2" text-anchor="middle" transform="translate(1110.9 1074.2) scale(1 1.035)">37</text>
<rect x="1145.49" y="1082.48" width="36.80" height="61.92" fill="#229A82" stroke="#168F76" stroke-width="0.7"/>
<text font-size="26.2" text-anchor="middle" transform="translate(1163.9 1077.7) scale(1 1.035)">35</text>
<line x1="131.9" y1="752.6" x2="131.9" y2="1145.1" stroke="#222" stroke-width="1.4"/>
<line x1="122.3" y1="1145.1" x2="1191.5" y2="1145.1" stroke="#222" stroke-width="1.4"/>
<text font-size="26.2" text-anchor="end" transform="translate(117.8 1152.2) scale(1 1.035)">0</text>
<line x1="122.6" y1="1108.8" x2="131.9" y2="1108.8" stroke="#222" stroke-width="1.4"/>
<text font-size="26.2" text-anchor="end" transform="translate(117.8 1116.6) scale(1 1.035)">20</text>
<line x1="122.6" y1="1073.2" x2="131.9" y2="1073.2" stroke="#222" stroke-width="1.4"/>
<text font-size="26.2" text-anchor="end" transform="translate(117.8 1081.0) scale(1 1.035)">40</text>
<line x1="122.6" y1="1037.6" x2="131.9" y2="1037.6" stroke="#222" stroke-width="1.4"/>
<text font-size="26.2" text-anchor="end" transform="translate(117.8 1045.4) scale(1 1.035)">60</text>
<line x1="122.6" y1="1002.1" x2="131.9" y2="1002.1" stroke="#222" stroke-width="1.4"/>
<text font-size="26.2" text-anchor="end" transform="translate(117.8 1009.9) scale(1 1.035)">80</text>
<line x1="122.6" y1="966.5" x2="131.9" y2="966.5" stroke="#222" stroke-width="1.4"/>
<text font-size="26.2" text-anchor="end" transform="translate(117.8 974.3) scale(1 1.035)">100</text>
<line x1="122.6" y1="930.9" x2="131.9" y2="930.9" stroke="#222" stroke-width="1.4"/>
<text font-size="26.2" text-anchor="end" transform="translate(117.8 938.7) scale(1 1.035)">120</text>
<line x1="122.6" y1="895.3" x2="131.9" y2="895.3" stroke="#222" stroke-width="1.4"/>
<text font-size="26.2" text-anchor="end" transform="translate(117.8 903.1) scale(1 1.035)">140</text>
<line x1="122.6" y1="859.7" x2="131.9" y2="859.7" stroke="#222" stroke-width="1.4"/>
<text font-size="26.2" text-anchor="end" transform="translate(117.8 867.5) scale(1 1.035)">160</text>
<line x1="122.6" y1="824.1" x2="131.9" y2="824.1" stroke="#222" stroke-width="1.4"/>
<text font-size="26.2" text-anchor="end" transform="translate(117.8 831.9) scale(1 1.035)">180</text>
<line x1="122.6" y1="788.6" x2="131.9" y2="788.6" stroke="#222" stroke-width="1.4"/>
<text font-size="26.2" text-anchor="end" transform="translate(117.8 796.4) scale(1 1.035)">200</text>
<line x1="122.6" y1="753.0" x2="131.9" y2="753.0" stroke="#222" stroke-width="1.4"/>
<text font-size="26.2" text-anchor="end" transform="translate(117.8 760.8) scale(1 1.035)">220</text>
<line x1="157.7" y1="1145.1" x2="157.7" y2="1152.7" stroke="#222" stroke-width="1.4"/>
<text font-size="23.4" text-anchor="end" transform="translate(167.6 1160.3) rotate(-60) scale(1 1.035)">primary metabolic process</text>
<line x1="210.6" y1="1145.1" x2="210.6" y2="1152.7" stroke="#222" stroke-width="1.4"/>
<text font-size="23.4" text-anchor="end" transform="translate(220.5 1160.3) rotate(-60) scale(1 1.035)">biosynthetic process</text>
<line x1="263.6" y1="1145.1" x2="263.6" y2="1152.7" stroke="#222" stroke-width="1.4"/>
<text font-size="23.4" text-anchor="end" transform="translate(273.5 1160.3) rotate(-60) scale(1 1.035)">macromolecule metabolic process</text>
<line x1="316.5" y1="1145.1" x2="316.5" y2="1152.7" stroke="#222" stroke-width="1.4"/>
<text font-size="23.4" text-anchor="end" transform="translate(326.4 1160.3) rotate(-60) scale(1 1.035)">small molecule metabolic process</text>
<line x1="369.5" y1="1145.1" x2="369.5" y2="1152.7" stroke="#222" stroke-width="1.4"/>
<text font-size="23.4" text-anchor="end" transform="translate(379.4 1160.3) rotate(-60) scale(1 1.035)">phosphorus metabolic process</text>
<line x1="422.5" y1="1145.1" x2="422.5" y2="1152.7" stroke="#222" stroke-width="1.4"/>
<text font-size="23.4" text-anchor="end" transform="translate(432.4 1160.3) rotate(-60) scale(1 1.035)">transport</text>
<line x1="475.4" y1="1145.1" x2="475.4" y2="1152.7" stroke="#222" stroke-width="1.4"/>
<text font-size="23.4" text-anchor="end" transform="translate(485.3 1160.3) rotate(-60) scale(1 1.035)">carbohydrate derivative metabolic process</text>
<line x1="528.4" y1="1145.1" x2="528.4" y2="1152.7" stroke="#222" stroke-width="1.4"/>
<text font-size="23.4" text-anchor="end" transform="translate(538.3 1160.3) rotate(-60) scale(1 1.035)">cellular component organization</text>
<line x1="581.3" y1="1145.1" x2="581.3" y2="1152.7" stroke="#222" stroke-width="1.4"/>
<text font-size="23.4" text-anchor="end" transform="translate(591.2 1160.3) rotate(-60) scale(1 1.035)">generation of precursor metabolic process</text>
<line x1="634.3" y1="1145.1" x2="634.3" y2="1152.7" stroke="#222" stroke-width="1.4"/>
<text font-size="23.4" text-anchor="end" transform="translate(644.2 1160.3) rotate(-60) scale(1 1.035)">catabolic process</text>
<line x1="687.2" y1="1145.1" x2="687.2" y2="1152.7" stroke="#222" stroke-width="1.4"/>
<text font-size="23.4" text-anchor="end" transform="translate(697.1 1160.3) rotate(-60) scale(1 1.035)">plasma membrane</text>
<line x1="740.2" y1="1145.1" x2="740.2" y2="1152.7" stroke="#222" stroke-width="1.4"/>
<text font-size="23.4" text-anchor="end" transform="translate(750.1 1160.3) rotate(-60) scale(1 1.035)">ion binding</text>
<line x1="793.2" y1="1145.1" x2="793.2" y2="1152.7" stroke="#222" stroke-width="1.4"/>
<text font-size="23.4" text-anchor="end" transform="translate(803.1 1160.3) rotate(-60) scale(1 1.035)">heterocyclic compound binding</text>
<line x1="846.1" y1="1145.1" x2="846.1" y2="1152.7" stroke="#222" stroke-width="1.4"/>
<text font-size="23.4" text-anchor="end" transform="translate(856.0 1160.3) rotate(-60) scale(1 1.035)">nucleoside phosphate binding</text>
<line x1="899.1" y1="1145.1" x2="899.1" y2="1152.7" stroke="#222" stroke-width="1.4"/>
<text font-size="23.4" text-anchor="end" transform="translate(909.0 1160.3) rotate(-60) scale(1 1.035)">ribonucleotide binding</text>
<line x1="952.0" y1="1145.1" x2="952.0" y2="1152.7" stroke="#222" stroke-width="1.4"/>
<text font-size="23.4" text-anchor="end" transform="translate(961.9 1160.3) rotate(-60) scale(1 1.035)">nucleic acid binding</text>
<line x1="1005.0" y1="1145.1" x2="1005.0" y2="1152.7" stroke="#222" stroke-width="1.4"/>
<text font-size="23.4" text-anchor="end" transform="translate(1014.9 1160.3) rotate(-60) scale(1 1.035)">hydrolase activity, acting on acid anhydrides</text>
<line x1="1058.0" y1="1145.1" x2="1058.0" y2="1152.7" stroke="#222" stroke-width="1.4"/>
<text font-size="23.4" text-anchor="end" transform="translate(1067.9 1160.3) rotate(-60) scale(1 1.035)">metal cluster binding</text>
<line x1="1110.9" y1="1145.1" x2="1110.9" y2="1152.7" stroke="#222" stroke-width="1.4"/>
<text font-size="23.4" text-anchor="end" transform="translate(1120.8 1160.3) rotate(-60) scale(1 1.035)">active transmembrane transporter activity</text>
<line x1="1163.9" y1="1145.1" x2="1163.9" y2="1152.7" stroke="#222" stroke-width="1.4"/>
<text font-size="23.4" text-anchor="end" transform="translate(1173.8 1160.8) rotate(-60) scale(1 1.035)">transferase activity, transferring</text>
<text font-size="23.4" text-anchor="end" transform="translate(1194.6 1165.7) rotate(-60) scale(1 1.035)">phosphorus-containing groups</text>
<text font-size="26.3" text-anchor="middle" transform="translate(67.5 962.6) rotate(-90) scale(1 1.035)">Number of DEPs</text>
<rect x="138.2" y="739.1" width="511.8" height="14.6" rx="5.8" ry="5.8" fill="#D94A35"/>
<rect x="668.7" y="739.1" width="34.5" height="14.6" rx="5.8" ry="5.8" fill="#45AFC8"/>
<rect x="721.6" y="739.1" width="458.4" height="14.6" rx="5.8" ry="5.8" fill="#229A82"/>
<text font-size="26.3" text-anchor="middle" transform="translate(396.5 730.3) scale(1 1.035)">Biological process</text>
<text font-size="26.3" text-anchor="middle" transform="translate(686.2 708.4) scale(1 1.035)">Cellular</text>
<text font-size="26.3" text-anchor="middle" transform="translate(686.2 730.3) scale(1 1.035)">component</text>
<text font-size="26.3" text-anchor="middle" transform="translate(950.3 730.3) scale(1 1.035)">Molecular function</text>
<text font-size="39.5" font-weight="bold" transform="translate(1342.0 48.4) scale(1 1.035)">D</text>
<line x1="1476.7" y1="226.9" x2="1476.7" y2="160.6" stroke="#111" stroke-width="2.7"/>
<polygon points="1476.7,137.6 1485.2,160.6 1468.2,160.6" fill="#111" stroke="#111" stroke-width="1.2" stroke-linejoin="miter"/>
<text font-size="21.6" transform="translate(1476.7 188.6) scale(1 1.035)">is_a</text>
<line x1="1476.7" y1="383.4" x2="1476.7" y2="318.2" stroke="#111" stroke-width="2.7"/>
<polygon points="1476.7,295.2 1485.2,318.2 1468.2,318.2" fill="#111" stroke="#111" stroke-width="1.2" stroke-linejoin="miter"/>
<text font-size="21.6" transform="translate(1476.7 345.6) scale(1 1.035)">is_a</text>
<line x1="1476.7" y1="542.1" x2="1476.7" y2="474.8" stroke="#111" stroke-width="2.7"/>
<polygon points="1476.7,451.8 1485.2,474.8 1468.2,474.8" fill="#111" stroke="#111" stroke-width="1.2" stroke-linejoin="miter"/>
<text font-size="21.6" transform="translate(1476.7 503.3) scale(1 1.035)">is_a</text>
<line x1="1476.7" y1="727.5" x2="1476.7" y2="659.0" stroke="#111" stroke-width="2.7"/>
<polygon points="1476.7,636.0 1485.2,659.0 1468.2,659.0" fill="#111" stroke="#111" stroke-width="1.2" stroke-linejoin="miter"/>
<text font-size="21.6" transform="translate(1476.7 688.2) scale(1 1.035)">is_a</text>
<line x1="1476.7" y1="925.4" x2="1476.7" y2="844.4" stroke="#111" stroke-width="2.7"/>
<polygon points="1476.7,821.4 1485.2,844.4 1468.2,844.4" fill="#111" stroke="#111" stroke-width="1.2" stroke-linejoin="miter"/>
<text font-size="21.6" transform="translate(1476.7 872.9) scale(1 1.035)">is_a</text>
<line x1="1476.7" y1="1097.0" x2="1476.7" y2="1016.7" stroke="#111" stroke-width="2.7"/>
<polygon points="1476.7,993.7 1485.2,1016.7 1468.2,1016.7" fill="#111" stroke="#111" stroke-width="1.2" stroke-linejoin="miter"/>
<text font-size="21.6" transform="translate(1476.7 1058.8) scale(1 1.035)">is_a</text>
<line x1="1738.6" y1="226.9" x2="1765.6" y2="158.9" stroke="#111" stroke-width="2.7"/>
<polygon points="1774.1,137.6 1773.5,162.1 1757.7,155.8" fill="#111" stroke="#111" stroke-width="1.2" stroke-linejoin="miter"/>
<text font-size="21.6" transform="translate(1763.4 188.6) scale(1 1.035)">is_a</text>
<line x1="1927.5" y1="226.9" x2="1840.9" y2="152.5" stroke="#111" stroke-width="2.7"/>
<polygon points="1823.5,137.6 1846.5,146.1 1835.4,159.0" fill="#111" stroke="#111" stroke-width="1.2" stroke-linejoin="miter"/>
<text font-size="21.6" transform="translate(1892.9 188.6) scale(1 1.035)">is_a</text>
<line x1="1963.9" y1="383.4" x2="1963.9" y2="318.2" stroke="#111" stroke-width="2.7"/>
<polygon points="1963.9,295.2 1972.4,318.2 1955.4,318.2" fill="#111" stroke="#111" stroke-width="1.2" stroke-linejoin="miter"/>
<text font-size="21.6" transform="translate(1963.9 345.6) scale(1 1.035)">is_a</text>
<line x1="1963.9" y1="554.9" x2="1963.9" y2="474.8" stroke="#111" stroke-width="2.7"/>
<polygon points="1963.9,451.8 1972.4,474.8 1955.4,474.8" fill="#111" stroke="#111" stroke-width="1.2" stroke-linejoin="miter"/>
<text font-size="21.6" transform="translate(1963.9 503.3) scale(1 1.035)">is_a</text>
<line x1="1963.9" y1="740.3" x2="1963.9" y2="646.2" stroke="#111" stroke-width="2.7"/>
<polygon points="1963.9,623.2 1972.4,646.2 1955.4,646.2" fill="#111" stroke="#111" stroke-width="1.2" stroke-linejoin="miter"/>
<text font-size="21.6" transform="translate(1963.9 688.2) scale(1 1.035)">is_a</text>
<line x1="1963.9" y1="912.6" x2="1963.9" y2="831.6" stroke="#111" stroke-width="2.7"/>
<polygon points="1963.9,808.6 1972.4,831.6 1955.4,831.6" fill="#111" stroke="#111" stroke-width="1.2" stroke-linejoin="miter"/>
<text font-size="21.6" transform="translate(1963.9 872.9) scale(1 1.035)">is_a</text>
<line x1="2302.8" y1="226.9" x2="2302.8" y2="160.6" stroke="#111" stroke-width="2.7"/>
<polygon points="2302.8,137.6 2311.3,160.6 2294.3,160.6" fill="#111" stroke="#111" stroke-width="1.2" stroke-linejoin="miter"/>
<text font-size="21.6" transform="translate(2302.8 188.6) scale(1 1.035)">is_a</text>
<line x1="2227.9" y1="383.4" x2="2271.2" y2="314.7" stroke="#111" stroke-width="2.7"/>
<polygon points="2283.5,295.2 2278.4,319.2 2264.0,310.1" fill="#111" stroke="#111" stroke-width="1.2" stroke-linejoin="miter"/>
<text font-size="21.6" transform="translate(2265.6 345.6) scale(1 1.035)">is_a</text>
<line x1="2377.7" y1="383.4" x2="2335.0" y2="314.7" stroke="#111" stroke-width="2.7"/>
<polygon points="2322.9,295.2 2342.3,310.3 2327.8,319.2" fill="#111" stroke="#111" stroke-width="1.2" stroke-linejoin="miter"/>
<text font-size="21.6" transform="translate(2359.3 345.6) scale(1 1.035)">is_a</text>
<line x1="2270.7" y1="554.9" x2="2232.5" y2="472.6" stroke="#2A5DA8" stroke-width="2.7"/>
<polygon points="2222.8,451.8 2240.2,469.0 2224.8,476.2" fill="#2A5DA8" stroke="#2A5DA8" stroke-width="1.2" stroke-linejoin="miter"/>
<text font-size="21.6" transform="translate(2251.4 503.3) scale(1 1.035)">part_of</text>
<line x1="2306.2" y1="554.9" x2="2362.7" y2="470.8" stroke="#111" stroke-width="2.7"/>
<polygon points="2375.5,451.8 2369.7,475.6 2355.6,466.1" fill="#111" stroke="#111" stroke-width="1.2" stroke-linejoin="miter"/>
<text font-size="21.6" transform="translate(2356.3 503.3) scale(1 1.035)">is_a</text>
<rect x="1373.8" y="70.3" width="205.5" height="65.9" rx="21" ry="21" fill="#fff" stroke="#111" stroke-width="2.1"/>
<text font-size="22.1" text-anchor="middle" transform="translate(1476.6 96.4) scale(1 1.035)">GO:0008150</text>
<text font-size="22.1" text-anchor="middle" transform="translate(1476.6 122.9) scale(1 1.035)">biological_process</text>
<rect x="1389.6" y="227.9" width="173.8" height="65.9" rx="21" ry="21" fill="#fff" stroke="#111" stroke-width="2.1"/>
<text font-size="22.1" text-anchor="middle" transform="translate(1476.5 254.0) scale(1 1.035)">GO:0009987</text>
<text font-size="22.1" text-anchor="middle" transform="translate(1476.5 280.5) scale(1 1.035)">cellular process</text>
<rect x="1377.2" y="384.5" width="198.6" height="65.9" rx="21" ry="21" fill="#fff" stroke="#111" stroke-width="2.1"/>
<text font-size="22.1" text-anchor="middle" transform="translate(1476.6 410.6) scale(1 1.035)">GO:0008152</text>
<text font-size="22.1" text-anchor="middle" transform="translate(1476.6 437.1) scale(1 1.035)">metabolic process</text>
<rect x="1353.2" y="543.1" width="247.4" height="91.5" rx="21" ry="21" fill="#E85468" stroke="#111" stroke-width="2.1"/>
<text font-size="22.1" text-anchor="middle" transform="translate(1477.0 568.8) scale(1 1.035)">GO:0006091</text>
<text font-size="22.1" text-anchor="middle" transform="translate(1477.0 595.3) scale(1 1.035)">generation of precursor</text>
<text font-size="22.1" text-anchor="middle" transform="translate(1477.0 621.8) scale(1 1.035)">metabolites and energy</text>
<rect x="1316.8" y="728.5" width="319.9" height="91.5" rx="21" ry="21" fill="#E85468" stroke="#111" stroke-width="2.1"/>
<text font-size="22.1" text-anchor="middle" transform="translate(1476.8 754.2) scale(1 1.035)">GO:0015980</text>
<text font-size="22.1" text-anchor="middle" transform="translate(1476.8 780.7) scale(1 1.035)">energy derivation by oxidation</text>
<text font-size="22.1" text-anchor="middle" transform="translate(1476.8 807.2) scale(1 1.035)">of organic compounds</text>
<rect x="1374.1" y="926.4" width="205.3" height="65.9" rx="21" ry="21" fill="#E85468" stroke="#111" stroke-width="2.1"/>
<text font-size="22.1" text-anchor="middle" transform="translate(1476.8 952.5) scale(1 1.035)">GO:0045333</text>
<text font-size="22.1" text-anchor="middle" transform="translate(1476.8 979.0) scale(1 1.035)">cellular respiration</text>
<rect x="1363.5" y="1098.0" width="226.7" height="65.9" rx="21" ry="21" fill="#E85468" stroke="#111" stroke-width="2.1"/>
<text font-size="22.1" text-anchor="middle" transform="translate(1476.8 1124.2) scale(1 1.035)">GO:0009061</text>
<text font-size="22.1" text-anchor="middle" transform="translate(1476.8 1150.7) scale(1 1.035)">anaerobic respiration</text>
<rect x="1679.3" y="70.3" width="212.7" height="65.9" rx="21" ry="21" fill="#fff" stroke="#111" stroke-width="2.1"/>
<text font-size="22.1" text-anchor="middle" transform="translate(1785.7 96.4) scale(1 1.035)">GO:0003674</text>
<text font-size="22.1" text-anchor="middle" transform="translate(1785.7 122.9) scale(1 1.035)">molecular_function</text>
<rect x="1597.5" y="227.9" width="257.7" height="65.9" rx="21" ry="21" fill="#E85468" stroke="#111" stroke-width="2.1"/>
<text font-size="22.1" text-anchor="middle" transform="translate(1726.4 254.0) scale(1 1.035)">GO:0009055</text>
<text font-size="22.1" text-anchor="middle" transform="translate(1726.4 280.5) scale(1 1.035)">electron transfer activity</text>
<rect x="1889.6" y="227.9" width="148.9" height="65.9" rx="21" ry="21" fill="#fff" stroke="#111" stroke-width="2.1"/>
<text font-size="22.1" text-anchor="middle" transform="translate(1964.1 254.0) scale(1 1.035)">GO:0005488</text>
<text font-size="22.1" text-anchor="middle" transform="translate(1964.1 280.5) scale(1 1.035)">binding</text>
<rect x="1837.5" y="384.5" width="253.3" height="65.9" rx="21" ry="21" fill="#fff" stroke="#111" stroke-width="2.1"/>
<text font-size="22.1" text-anchor="middle" transform="translate(1964.1 410.6) scale(1 1.035)">GO:0036094</text>
<text font-size="22.1" text-anchor="middle" transform="translate(1964.1 437.1) scale(1 1.035)">small molecule binding</text>
<rect x="1850.2" y="555.9" width="228.1" height="65.9" rx="21" ry="21" fill="#E85468" stroke="#111" stroke-width="2.1"/>
<text font-size="22.1" text-anchor="middle" transform="translate(1964.3 582.0) scale(1 1.035)">GO:0051540</text>
<text font-size="22.1" text-anchor="middle" transform="translate(1964.3 608.5) scale(1 1.035)">metal cluster binding</text>
<rect x="1826.5" y="741.3" width="273.5" height="65.9" rx="21" ry="21" fill="#E85468" stroke="#111" stroke-width="2.1"/>
<text font-size="22.1" text-anchor="middle" transform="translate(1963.2 767.4) scale(1 1.035)">GO:0051536</text>
<text font-size="22.1" text-anchor="middle" transform="translate(1963.2 793.9) scale(1 1.035)">iron-sulfur cluster binding</text>
<rect x="1844.2" y="913.6" width="239.7" height="91.5" rx="21" ry="21" fill="#E85468" stroke="#111" stroke-width="2.1"/>
<text font-size="22.1" text-anchor="middle" transform="translate(1964.1 939.3) scale(1 1.035)">GO:0051539</text>
<text font-size="22.1" text-anchor="middle" transform="translate(1964.1 965.8) scale(1 1.035)">4 iron, 4 sulfur cluster</text>
<text font-size="22.1" text-anchor="middle" transform="translate(1964.1 992.3) scale(1 1.035)">binding</text>
<rect x="2194.8" y="70.3" width="216.1" height="65.9" rx="21" ry="21" fill="#fff" stroke="#111" stroke-width="2.1"/>
<text font-size="22.1" text-anchor="middle" transform="translate(2302.8 96.4) scale(1 1.035)">GO:0005575</text>
<text font-size="22.1" text-anchor="middle" transform="translate(2302.8 122.9) scale(1 1.035)">cellular_component</text>
<rect x="2154.1" y="227.9" width="298.3" height="65.9" rx="21" ry="21" fill="#fff" stroke="#111" stroke-width="2.1"/>
<text font-size="22.1" text-anchor="middle" transform="translate(2303.2 254.0) scale(1 1.035)">GO:0110165</text>
<text font-size="22.1" text-anchor="middle" transform="translate(2303.2 280.5) scale(1 1.035)">cellular anatomical structure</text>
<rect x="2129.7" y="384.5" width="158.4" height="65.9" rx="21" ry="21" fill="#fff" stroke="#111" stroke-width="2.1"/>
<text font-size="22.1" text-anchor="middle" transform="translate(2208.8 410.6) scale(1 1.035)">GO:0071944</text>
<text font-size="22.1" text-anchor="middle" transform="translate(2208.8 437.1) scale(1 1.035)">cell periphery</text>
<rect x="2322.2" y="384.5" width="149.8" height="65.9" rx="21" ry="21" fill="#E85468" stroke="#111" stroke-width="2.1"/>
<text font-size="22.1" text-anchor="middle" transform="translate(2397.1 410.6) scale(1 1.035)">GO:0016020</text>
<text font-size="22.1" text-anchor="middle" transform="translate(2397.1 437.1) scale(1 1.035)">membrane</text>
<rect x="2183.2" y="555.9" width="205.0" height="65.9" rx="21" ry="21" fill="#E85468" stroke="#111" stroke-width="2.1"/>
<text font-size="22.1" text-anchor="middle" transform="translate(2285.6 582.0) scale(1 1.035)">GO:0005886</text>
<text font-size="22.1" text-anchor="middle" transform="translate(2285.6 608.5) scale(1 1.035)">plasma membrane</text>
</svg>
</body></html>
